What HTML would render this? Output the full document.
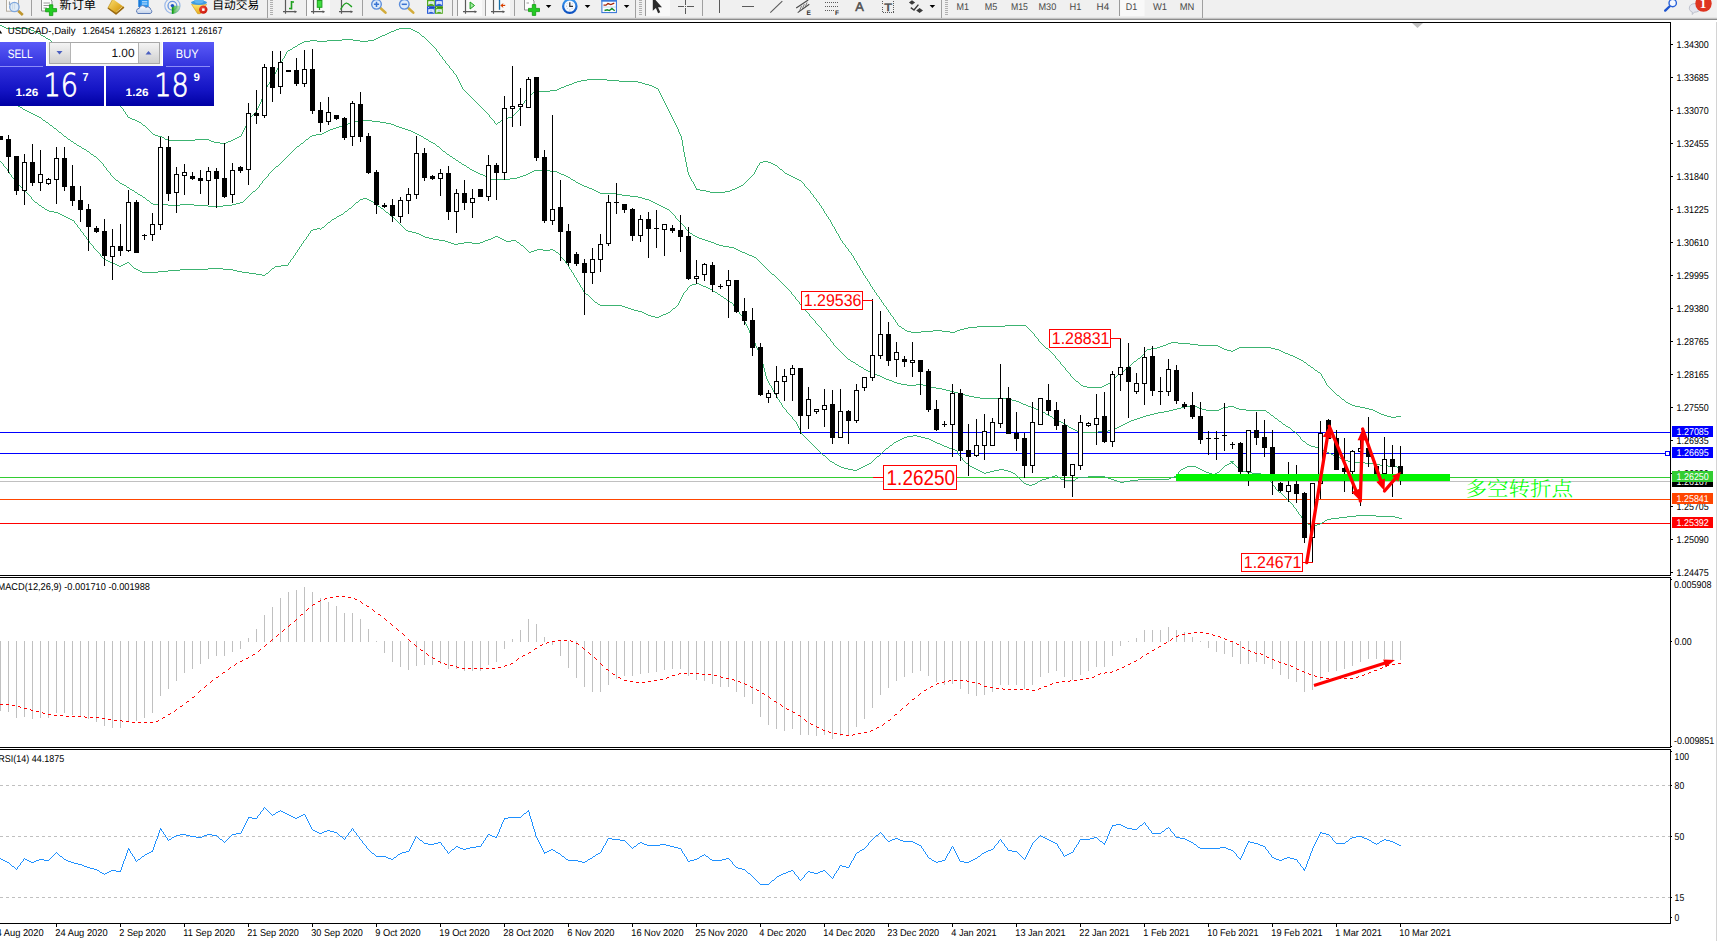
<!DOCTYPE html>
<html lang="zh"><head><meta charset="utf-8"><title>USDCAD Daily</title>
<style>html,body{margin:0;padding:0;background:#fff;overflow:hidden}svg{display:block}</style>
</head><body>
<svg width="1717" height="941" viewBox="0 0 1717 941" font-family='"Liberation Sans", sans-serif' font-size="10" text-rendering="geometricPrecision">
<defs>
<linearGradient id="gTop" x1="0" y1="0" x2="0" y2="1"><stop offset="0" stop-color="#5a5af8"/><stop offset="1" stop-color="#3232dc"/></linearGradient>
<linearGradient id="gBot" x1="0" y1="0" x2="0" y2="1"><stop offset="0" stop-color="#3030dc"/><stop offset="0.6" stop-color="#1414c4"/><stop offset="1" stop-color="#0000a4"/></linearGradient>
<linearGradient id="gBtn" x1="0" y1="0" x2="0" y2="1"><stop offset="0" stop-color="#f4f4f4"/><stop offset="0.5" stop-color="#e2e2e2"/><stop offset="1" stop-color="#cfcfcf"/></linearGradient>
<clipPath id="cMain"><rect x="0" y="23" width="1670" height="552"/></clipPath>
<clipPath id="cAll"><rect x="0" y="0" width="1717" height="941"/></clipPath>
</defs>
<rect x="0" y="0" width="1717" height="941" fill="#fff"/>
<g clip-path="url(#cMain)" shape-rendering="crispEdges">
<rect x="0" y="432" width="1670" height="1" fill="#0000ff"/>
<rect x="0" y="453" width="1670" height="1" fill="#0000ff"/>
<rect x="0" y="477" width="1670" height="1" fill="#32cd32"/>
<rect x="0" y="481" width="1670" height="1" fill="#c0c0c0"/>
<rect x="0" y="499" width="1670" height="1" fill="#ff4500"/>
<rect x="0" y="523" width="1670" height="1" fill="#ff0000"/>
<path d="M0 25h2v1h-2zM2 26h2v1h-2zM4 27h2v1h-2zM6 28h23v1h-23zM399 28h12v1h-12zM29 29h2v1h-2zM396 29h3v1h-3zM411 29h2v1h-2zM31 30h3v1h-3zM394 30h2v1h-2zM413 30h2v1h-2zM34 31h2v1h-2zM391 31h3v1h-3zM415 31h2v1h-2zM36 32h2v1h-2zM389 32h2v1h-2zM417 32h2v1h-2zM38 33h2v1h-2zM387 33h2v1h-2zM419 33h1v1h-1zM40 34h1v1h-1zM385 34h2v1h-2zM420 34h1v1h-1zM41 35h2v1h-2zM382 35h3v1h-3zM421 35h1v1h-1zM43 36h2v1h-2zM380 36h2v1h-2zM422 36h2v1h-2zM45 37h1v1h-1zM378 37h2v1h-2zM424 37h1v1h-1zM46 38h2v1h-2zM376 38h2v1h-2zM425 38h1v1h-1zM48 39h2v1h-2zM342 39h11v1h-11zM374 39h2v1h-2zM426 39h1v1h-1zM50 40h1v1h-1zM310 40h7v1h-7zM327 40h15v1h-15zM353 40h7v1h-7zM368 40h6v1h-6zM427 40h1v1h-1zM51 41h1v1h-1zM304 41h6v1h-6zM317 41h10v1h-10zM360 41h8v1h-8zM428 41h1v1h-1zM52 42h1v1h-1zM302 42h2v1h-2zM429 42h1v1h-1zM53 43h1v1h-1zM300 43h2v1h-2zM430 43h1v1h-1zM54 44h2v1h-2zM298 44h2v1h-2zM431 44h1v1h-1zM56 45h1v1h-1zM297 45h1v1h-1zM432 45h1v1h-1zM57 46h1v1h-1zM295 46h2v1h-2zM433 46h1v1h-1zM58 47h1v1h-1zM293 47h2v1h-2zM434 47h1v1h-1zM59 48h1v1h-1zM292 48h1v1h-1zM435 48h1v1h-1zM60 49h1v1h-1zM290 49h2v1h-2zM436 49h1v2h-1zM61 50h1v1h-1zM288 50h2v1h-2zM62 51h2v1h-2zM287 51h1v1h-1zM437 51h1v1h-1zM64 52h1v1h-1zM286 52h1v2h-1zM438 52h1v1h-1zM65 53h1v1h-1zM439 53h1v2h-1zM66 54h1v1h-1zM285 54h1v2h-1zM67 55h1v1h-1zM440 55h1v1h-1zM68 56h1v1h-1zM284 56h1v2h-1zM441 56h1v1h-1zM69 57h1v1h-1zM442 57h1v2h-1zM70 58h2v1h-2zM283 58h1v1h-1zM72 59h1v1h-1zM282 59h1v2h-1zM443 59h1v1h-1zM73 60h1v1h-1zM444 60h1v1h-1zM74 61h1v1h-1zM281 61h1v2h-1zM445 61h1v2h-1zM75 62h1v1h-1zM76 63h1v1h-1zM280 63h1v1h-1zM446 63h1v1h-1zM77 64h1v1h-1zM279 64h1v2h-1zM447 64h1v1h-1zM78 65h1v1h-1zM448 65h1v1h-1zM79 66h1v1h-1zM278 66h1v2h-1zM449 66h1v2h-1zM80 67h1v1h-1zM81 68h1v1h-1zM277 68h1v2h-1zM450 68h1v1h-1zM82 69h1v1h-1zM451 69h1v1h-1zM83 70h1v1h-1zM276 70h1v2h-1zM452 70h1v1h-1zM84 71h1v1h-1zM453 71h1v2h-1zM85 72h1v1h-1zM275 72h1v2h-1zM86 73h1v1h-1zM454 73h1v1h-1zM87 74h2v1h-2zM274 74h1v2h-1zM455 74h1v1h-1zM89 75h1v1h-1zM456 75h1v2h-1zM90 76h1v1h-1zM273 76h1v2h-1zM91 77h1v1h-1zM457 77h1v2h-1zM92 78h1v1h-1zM272 78h1v1h-1zM93 79h1v1h-1zM271 79h1v2h-1zM458 79h1v2h-1zM587 79h20v1h-20zM94 80h1v1h-1zM581 80h6v1h-6zM607 80h12v1h-12zM95 81h1v1h-1zM270 81h1v1h-1zM459 81h1v2h-1zM577 81h4v1h-4zM619 81h19v1h-19zM96 82h1v1h-1zM269 82h1v2h-1zM574 82h3v1h-3zM638 82h4v1h-4zM97 83h1v1h-1zM460 83h1v2h-1zM572 83h2v1h-2zM642 83h3v1h-3zM98 84h1v1h-1zM268 84h1v1h-1zM569 84h3v1h-3zM645 84h4v1h-4zM99 85h1v1h-1zM267 85h1v2h-1zM461 85h1v2h-1zM566 85h3v1h-3zM649 85h3v1h-3zM100 86h1v1h-1zM564 86h2v1h-2zM652 86h2v1h-2zM101 87h1v1h-1zM266 87h1v2h-1zM462 87h1v2h-1zM561 87h3v1h-3zM654 87h2v1h-2zM102 88h1v1h-1zM559 88h2v1h-2zM656 88h2v1h-2zM103 89h1v1h-1zM265 89h1v2h-1zM463 89h1v1h-1zM557 89h2v1h-2zM658 89h1v2h-1zM104 90h1v1h-1zM464 90h1v1h-1zM550 90h7v1h-7zM105 91h1v1h-1zM264 91h1v3h-1zM465 91h1v1h-1zM534 91h16v1h-16zM659 91h1v2h-1zM106 92h1v1h-1zM466 92h1v1h-1zM533 92h1v1h-1zM107 93h1v1h-1zM467 93h1v1h-1zM532 93h1v1h-1zM660 93h1v2h-1zM108 94h1v1h-1zM263 94h1v3h-1zM468 94h1v1h-1zM530 94h2v1h-2zM109 95h1v1h-1zM469 95h1v1h-1zM529 95h1v1h-1zM661 95h1v2h-1zM110 96h1v1h-1zM470 96h1v1h-1zM528 96h1v1h-1zM111 97h1v1h-1zM262 97h1v2h-1zM471 97h1v1h-1zM527 97h1v1h-1zM662 97h1v2h-1zM112 98h1v1h-1zM472 98h1v1h-1zM526 98h1v2h-1zM113 99h1v1h-1zM261 99h1v3h-1zM473 99h1v1h-1zM663 99h1v2h-1zM114 100h1v1h-1zM474 100h1v1h-1zM525 100h1v1h-1zM115 101h1v1h-1zM475 101h1v1h-1zM524 101h1v2h-1zM664 101h1v2h-1zM116 102h1v1h-1zM260 102h1v2h-1zM476 102h1v1h-1zM117 103h1v1h-1zM477 103h1v1h-1zM523 103h1v1h-1zM665 103h1v2h-1zM118 104h1v1h-1zM259 104h1v2h-1zM478 104h1v1h-1zM522 104h1v1h-1zM119 105h1v1h-1zM479 105h1v1h-1zM521 105h1v2h-1zM666 105h1v2h-1zM120 106h1v1h-1zM258 106h1v2h-1zM480 106h1v1h-1zM121 107h1v1h-1zM481 107h1v1h-1zM520 107h1v1h-1zM667 107h1v2h-1zM122 108h1v1h-1zM257 108h1v2h-1zM482 108h1v1h-1zM519 108h1v2h-1zM123 109h1v2h-1zM483 109h1v1h-1zM668 109h1v2h-1zM256 110h1v2h-1zM484 110h1v1h-1zM518 110h1v1h-1zM124 111h1v1h-1zM485 111h1v1h-1zM517 111h1v1h-1zM669 111h1v2h-1zM125 112h1v2h-1zM255 112h1v1h-1zM486 112h1v1h-1zM516 112h1v1h-1zM254 113h1v1h-1zM487 113h1v1h-1zM515 113h1v1h-1zM670 113h1v2h-1zM126 114h1v1h-1zM253 114h1v1h-1zM488 114h1v1h-1zM514 114h1v1h-1zM127 115h1v2h-1zM252 115h1v1h-1zM489 115h1v2h-1zM513 115h1v1h-1zM671 115h1v2h-1zM251 116h1v1h-1zM512 116h1v1h-1zM128 117h2v1h-2zM250 117h1v1h-1zM490 117h1v1h-1zM508 117h4v1h-4zM672 117h1v2h-1zM130 118h2v1h-2zM249 118h1v2h-1zM491 118h1v1h-1zM504 118h4v1h-4zM132 119h3v1h-3zM492 119h1v1h-1zM502 119h2v1h-2zM673 119h1v2h-1zM135 120h2v1h-2zM248 120h1v2h-1zM493 120h1v1h-1zM501 120h1v1h-1zM137 121h2v1h-2zM494 121h1v2h-1zM500 121h1v1h-1zM674 121h1v2h-1zM139 122h2v1h-2zM247 122h1v2h-1zM498 122h2v1h-2zM141 123h1v1h-1zM495 123h1v1h-1zM497 123h1v1h-1zM675 123h1v2h-1zM142 124h1v1h-1zM246 124h1v2h-1zM496 124h1v1h-1zM143 125h2v1h-2zM676 125h1v2h-1zM145 126h1v1h-1zM245 126h1v2h-1zM146 127h1v1h-1zM677 127h1v2h-1zM147 128h1v1h-1zM244 128h1v2h-1zM148 129h1v1h-1zM678 129h1v3h-1zM149 130h1v1h-1zM243 130h1v2h-1zM150 131h1v1h-1zM151 132h1v1h-1zM242 132h1v2h-1zM679 132h1v2h-1zM152 133h1v1h-1zM153 134h2v1h-2zM241 134h1v2h-1zM680 134h1v2h-1zM155 135h3v1h-3zM158 136h4v1h-4zM239 136h2v1h-2zM681 136h1v4h-1zM162 137h2v1h-2zM237 137h2v1h-2zM164 138h1v1h-1zM235 138h2v1h-2zM165 139h4v1h-4zM195 139h14v1h-14zM233 139h2v1h-2zM169 140h26v1h-26zM209 140h2v1h-2zM231 140h2v1h-2zM682 140h1v6h-1zM211 141h3v1h-3zM228 141h3v1h-3zM214 142h6v1h-6zM226 142h2v1h-2zM220 143h6v1h-6zM683 146h1v6h-1zM684 152h1v5h-1zM685 157h1v5h-1zM763 161h5v1h-5zM686 162h1v5h-1zM760 162h3v1h-3zM768 162h3v1h-3zM759 163h1v2h-1zM771 163h2v1h-2zM773 164h2v1h-2zM758 165h1v1h-1zM775 165h2v1h-2zM757 166h1v2h-1zM777 166h1v1h-1zM687 167h1v5h-1zM778 167h1v1h-1zM756 168h1v2h-1zM779 168h1v1h-1zM780 169h2v1h-2zM755 170h1v2h-1zM782 170h1v1h-1zM783 171h1v1h-1zM688 172h1v3h-1zM754 172h1v2h-1zM784 172h1v1h-1zM785 173h2v1h-2zM753 174h1v1h-1zM787 174h2v1h-2zM689 175h1v2h-1zM752 175h1v1h-1zM789 175h2v1h-2zM751 176h1v1h-1zM791 176h2v1h-2zM690 177h1v2h-1zM750 177h1v1h-1zM793 177h2v1h-2zM749 178h1v1h-1zM795 178h2v1h-2zM691 179h1v2h-1zM748 179h1v1h-1zM797 179h2v1h-2zM747 180h1v1h-1zM799 180h2v1h-2zM692 181h1v1h-1zM746 181h1v1h-1zM801 181h1v1h-1zM693 182h1v2h-1zM745 182h1v1h-1zM802 182h1v1h-1zM744 183h1v1h-1zM803 183h1v1h-1zM694 184h1v2h-1zM743 184h1v1h-1zM804 184h1v2h-1zM741 185h2v1h-2zM695 186h1v2h-1zM739 186h2v1h-2zM805 186h1v1h-1zM737 187h2v1h-2zM806 187h1v1h-1zM696 188h1v1h-1zM735 188h2v1h-2zM807 188h1v1h-1zM696 189h4v1h-4zM732 189h3v1h-3zM808 189h1v1h-1zM700 190h6v1h-6zM730 190h2v1h-2zM809 190h1v1h-1zM706 191h4v1h-4zM725 191h5v1h-5zM810 191h1v2h-1zM710 192h15v1h-15zM811 193h1v1h-1zM812 194h1v1h-1zM813 195h1v2h-1zM814 197h1v1h-1zM815 198h1v1h-1zM816 199h1v2h-1zM817 201h1v1h-1zM818 202h1v1h-1zM819 203h1v2h-1zM820 205h1v1h-1zM821 206h1v2h-1zM822 208h1v1h-1zM823 209h1v2h-1zM824 211h1v2h-1zM825 213h1v1h-1zM826 214h1v2h-1zM827 216h1v1h-1zM828 217h1v2h-1zM829 219h1v1h-1zM830 220h1v2h-1zM831 222h1v2h-1zM832 224h1v2h-1zM833 226h1v1h-1zM834 227h1v2h-1zM835 229h1v2h-1zM836 231h1v2h-1zM837 233h1v1h-1zM838 234h1v2h-1zM839 236h1v2h-1zM840 238h1v2h-1zM841 240h1v1h-1zM842 241h1v2h-1zM843 243h1v1h-1zM844 244h1v1h-1zM845 245h1v2h-1zM846 247h1v1h-1zM847 248h1v1h-1zM848 249h1v2h-1zM849 251h1v1h-1zM850 252h1v1h-1zM851 253h1v2h-1zM852 255h1v1h-1zM853 256h1v2h-1zM854 258h1v2h-1zM855 260h1v1h-1zM856 261h1v2h-1zM857 263h1v2h-1zM858 265h1v1h-1zM859 266h1v2h-1zM860 268h1v2h-1zM861 270h1v1h-1zM862 271h1v2h-1zM863 273h1v2h-1zM864 275h1v1h-1zM865 276h1v2h-1zM866 278h1v1h-1zM867 279h1v2h-1zM868 281h1v1h-1zM869 282h1v2h-1zM870 284h1v2h-1zM871 286h1v1h-1zM872 287h1v2h-1zM873 289h1v1h-1zM874 290h1v2h-1zM875 292h1v1h-1zM876 293h1v2h-1zM877 295h1v1h-1zM878 296h1v1h-1zM879 297h1v2h-1zM880 299h1v1h-1zM881 300h1v2h-1zM882 302h1v1h-1zM883 303h1v2h-1zM884 305h1v1h-1zM885 306h1v1h-1zM886 307h1v2h-1zM887 309h1v1h-1zM888 310h1v2h-1zM889 312h1v1h-1zM890 313h1v2h-1zM891 315h1v1h-1zM892 316h1v1h-1zM893 317h1v2h-1zM894 319h1v1h-1zM895 320h1v2h-1zM896 322h1v1h-1zM897 323h1v2h-1zM898 325h1v1h-1zM1005 325h21v1h-21zM899 326h2v1h-2zM977 326h28v1h-28zM1026 326h1v1h-1zM901 327h1v1h-1zM968 327h9v1h-9zM1027 327h1v1h-1zM902 328h2v1h-2zM964 328h4v1h-4zM1028 328h1v1h-1zM904 329h1v1h-1zM960 329h4v1h-4zM1029 329h1v1h-1zM905 330h2v1h-2zM933 330h9v1h-9zM957 330h3v1h-3zM1030 330h1v1h-1zM907 331h4v1h-4zM921 331h12v1h-12zM942 331h8v1h-8zM955 331h2v1h-2zM1031 331h1v1h-1zM911 332h10v1h-10zM950 332h5v1h-5zM1032 332h1v1h-1zM1033 333h1v1h-1zM1034 334h1v2h-1zM1035 336h1v1h-1zM1036 337h1v1h-1zM1037 338h1v1h-1zM1038 339h1v2h-1zM1039 341h1v1h-1zM1040 342h1v1h-1zM1171 342h7v1h-7zM1041 343h1v1h-1zM1168 343h3v1h-3zM1178 343h12v1h-12zM1042 344h1v1h-1zM1166 344h2v1h-2zM1190 344h8v1h-8zM1043 345h1v1h-1zM1163 345h3v1h-3zM1198 345h20v1h-20zM1044 346h1v1h-1zM1160 346h3v1h-3zM1218 346h2v1h-2zM1045 347h1v1h-1zM1157 347h3v1h-3zM1220 347h2v1h-2zM1239 347h32v1h-32zM1046 348h2v1h-2zM1151 348h6v1h-6zM1222 348h2v1h-2zM1237 348h2v1h-2zM1271 348h4v1h-4zM1048 349h1v1h-1zM1147 349h4v1h-4zM1224 349h3v1h-3zM1235 349h2v1h-2zM1275 349h4v1h-4zM1049 350h1v1h-1zM1146 350h1v1h-1zM1227 350h4v1h-4zM1233 350h2v1h-2zM1279 350h2v1h-2zM1050 351h1v1h-1zM1145 351h1v1h-1zM1231 351h2v1h-2zM1281 351h2v1h-2zM1051 352h1v1h-1zM1144 352h1v2h-1zM1283 352h2v1h-2zM1052 353h1v1h-1zM1285 353h3v1h-3zM1053 354h1v1h-1zM1143 354h1v1h-1zM1288 354h2v1h-2zM1054 355h1v1h-1zM1142 355h1v1h-1zM1290 355h3v1h-3zM1055 356h1v2h-1zM1141 356h1v1h-1zM1293 356h2v1h-2zM1140 357h1v1h-1zM1295 357h2v1h-2zM1056 358h1v1h-1zM1138 358h2v1h-2zM1297 358h2v1h-2zM1057 359h1v1h-1zM1137 359h1v1h-1zM1299 359h2v1h-2zM1058 360h1v1h-1zM1136 360h1v1h-1zM1301 360h2v1h-2zM1059 361h1v1h-1zM1134 361h2v1h-2zM1303 361h1v1h-1zM1060 362h1v2h-1zM1133 362h1v1h-1zM1304 362h2v1h-2zM1132 363h1v1h-1zM1306 363h1v1h-1zM1061 364h1v1h-1zM1131 364h1v1h-1zM1307 364h1v1h-1zM1062 365h1v1h-1zM1130 365h1v1h-1zM1308 365h2v1h-2zM1063 366h1v1h-1zM1128 366h2v1h-2zM1310 366h1v1h-1zM1064 367h1v1h-1zM1127 367h1v1h-1zM1311 367h2v1h-2zM1065 368h1v2h-1zM1126 368h1v1h-1zM1313 368h1v1h-1zM1125 369h1v1h-1zM1314 369h1v1h-1zM1066 370h1v1h-1zM1124 370h1v1h-1zM1315 370h2v1h-2zM1067 371h1v1h-1zM1122 371h2v1h-2zM1317 371h1v1h-1zM1068 372h1v1h-1zM1121 372h1v1h-1zM1318 372h2v1h-2zM1069 373h1v1h-1zM1120 373h1v1h-1zM1320 373h1v1h-1zM1070 374h1v2h-1zM1118 374h2v1h-2zM1321 374h1v2h-1zM1117 375h1v1h-1zM1071 376h1v1h-1zM1116 376h1v1h-1zM1322 376h1v2h-1zM1072 377h1v1h-1zM1115 377h1v1h-1zM1073 378h1v1h-1zM1114 378h1v1h-1zM1323 378h1v1h-1zM1074 379h1v1h-1zM1113 379h1v1h-1zM1324 379h1v2h-1zM1075 380h1v1h-1zM1112 380h1v1h-1zM1076 381h2v1h-2zM1111 381h1v1h-1zM1325 381h1v2h-1zM1078 382h1v1h-1zM1110 382h1v1h-1zM1079 383h1v1h-1zM1108 383h2v1h-2zM1326 383h1v2h-1zM1080 384h1v1h-1zM1106 384h2v1h-2zM1081 385h2v1h-2zM1104 385h2v1h-2zM1327 385h1v1h-1zM1083 386h4v1h-4zM1102 386h2v1h-2zM1328 386h1v1h-1zM1087 387h15v1h-15zM1329 387h1v1h-1zM1330 388h1v1h-1zM1331 389h1v1h-1zM1332 390h1v1h-1zM1333 391h1v1h-1zM1334 392h1v1h-1zM1335 393h1v1h-1zM1336 394h1v1h-1zM1337 395h2v1h-2zM1339 396h1v1h-1zM1340 397h1v1h-1zM1341 398h1v1h-1zM1342 399h2v1h-2zM1344 400h1v1h-1zM1345 401h1v1h-1zM1346 402h2v1h-2zM1348 403h2v1h-2zM1350 404h2v1h-2zM1352 405h3v1h-3zM1355 406h5v1h-5zM1360 407h5v1h-5zM1365 408h4v1h-4zM1369 409h4v1h-4zM1373 410h2v1h-2zM1375 411h2v1h-2zM1377 412h2v1h-2zM1379 413h2v1h-2zM1381 414h3v1h-3zM1384 415h3v1h-3zM1387 416h4v1h-4zM1396 416h5v1h-5zM1391 417h5v1h-5z" fill="#3cb371"/>
<path d="M0 96h1v1h-1zM1 97h2v1h-2zM3 98h2v1h-2zM5 99h2v1h-2zM7 100h2v1h-2zM9 101h2v1h-2zM11 102h1v1h-1zM12 103h2v1h-2zM14 104h2v1h-2zM16 105h2v1h-2zM18 106h2v1h-2zM20 107h2v1h-2zM22 108h1v1h-1zM23 109h2v1h-2zM25 110h2v1h-2zM27 111h2v1h-2zM29 112h2v1h-2zM31 113h2v1h-2zM33 114h2v1h-2zM35 115h2v1h-2zM37 116h2v1h-2zM39 117h2v1h-2zM41 118h1v1h-1zM42 119h1v1h-1zM43 120h2v1h-2zM360 120h12v1h-12zM45 121h1v1h-1zM353 121h7v1h-7zM372 121h8v1h-8zM46 122h2v1h-2zM350 122h3v1h-3zM380 122h6v1h-6zM48 123h1v1h-1zM348 123h2v1h-2zM386 123h5v1h-5zM49 124h1v1h-1zM345 124h3v1h-3zM391 124h3v1h-3zM50 125h2v1h-2zM342 125h3v1h-3zM394 125h2v1h-2zM52 126h1v1h-1zM339 126h3v1h-3zM396 126h3v1h-3zM53 127h1v1h-1zM336 127h3v1h-3zM399 127h3v1h-3zM54 128h2v1h-2zM333 128h3v1h-3zM402 128h3v1h-3zM56 129h1v1h-1zM330 129h3v1h-3zM405 129h3v1h-3zM57 130h1v1h-1zM328 130h2v1h-2zM408 130h3v1h-3zM58 131h1v1h-1zM326 131h2v1h-2zM411 131h2v1h-2zM59 132h2v1h-2zM324 132h2v1h-2zM413 132h2v1h-2zM61 133h1v1h-1zM322 133h2v1h-2zM415 133h2v1h-2zM62 134h1v1h-1zM316 134h6v1h-6zM417 134h2v1h-2zM63 135h1v1h-1zM312 135h4v1h-4zM419 135h2v1h-2zM64 136h2v1h-2zM310 136h2v1h-2zM421 136h2v1h-2zM66 137h1v1h-1zM309 137h1v1h-1zM423 137h1v1h-1zM67 138h1v1h-1zM308 138h1v1h-1zM424 138h2v1h-2zM68 139h2v1h-2zM306 139h2v1h-2zM426 139h2v1h-2zM70 140h1v1h-1zM305 140h1v1h-1zM428 140h1v1h-1zM71 141h2v1h-2zM304 141h1v1h-1zM429 141h2v1h-2zM73 142h1v1h-1zM303 142h1v1h-1zM431 142h2v1h-2zM74 143h2v1h-2zM301 143h2v1h-2zM433 143h2v1h-2zM76 144h1v1h-1zM300 144h1v1h-1zM435 144h1v1h-1zM77 145h2v1h-2zM299 145h1v1h-1zM436 145h1v1h-1zM79 146h2v1h-2zM297 146h2v1h-2zM437 146h2v1h-2zM81 147h1v1h-1zM296 147h1v1h-1zM439 147h1v1h-1zM82 148h2v1h-2zM295 148h1v1h-1zM440 148h1v1h-1zM84 149h2v1h-2zM294 149h1v1h-1zM441 149h1v1h-1zM86 150h1v1h-1zM293 150h1v1h-1zM442 150h1v1h-1zM87 151h2v1h-2zM292 151h1v1h-1zM443 151h2v1h-2zM89 152h1v1h-1zM291 152h1v1h-1zM445 152h1v1h-1zM90 153h1v1h-1zM290 153h1v1h-1zM446 153h1v1h-1zM91 154h2v1h-2zM289 154h1v1h-1zM447 154h2v1h-2zM93 155h1v1h-1zM288 155h1v1h-1zM449 155h1v1h-1zM94 156h2v1h-2zM287 156h1v1h-1zM450 156h2v1h-2zM96 157h1v1h-1zM286 157h1v1h-1zM452 157h1v1h-1zM97 158h1v1h-1zM285 158h1v1h-1zM453 158h2v1h-2zM98 159h1v1h-1zM284 159h1v1h-1zM455 159h1v1h-1zM99 160h1v1h-1zM283 160h1v1h-1zM456 160h2v1h-2zM100 161h1v1h-1zM282 161h1v1h-1zM458 161h1v1h-1zM101 162h1v1h-1zM281 162h1v1h-1zM459 162h2v1h-2zM102 163h1v1h-1zM280 163h1v1h-1zM461 163h1v1h-1zM103 164h1v2h-1zM279 164h1v1h-1zM462 164h2v1h-2zM278 165h1v1h-1zM464 165h2v1h-2zM104 166h1v1h-1zM276 166h2v1h-2zM466 166h1v1h-1zM105 167h1v1h-1zM275 167h1v1h-1zM467 167h2v1h-2zM106 168h1v2h-1zM274 168h1v1h-1zM469 168h1v1h-1zM273 169h1v1h-1zM470 169h2v1h-2zM107 170h1v1h-1zM272 170h1v1h-1zM472 170h2v1h-2zM534 170h16v1h-16zM108 171h1v1h-1zM271 171h1v1h-1zM474 171h2v1h-2zM532 171h2v1h-2zM550 171h7v1h-7zM109 172h1v1h-1zM270 172h1v1h-1zM476 172h2v1h-2zM530 172h2v1h-2zM557 172h2v1h-2zM110 173h1v2h-1zM269 173h1v1h-1zM478 173h2v1h-2zM528 173h2v1h-2zM559 173h2v1h-2zM268 174h1v2h-1zM480 174h3v1h-3zM526 174h2v1h-2zM561 174h3v1h-3zM111 175h1v1h-1zM483 175h2v1h-2zM523 175h3v1h-3zM564 175h2v1h-2zM112 176h1v1h-1zM267 176h1v1h-1zM485 176h2v1h-2zM520 176h3v1h-3zM566 176h2v1h-2zM113 177h1v1h-1zM266 177h1v1h-1zM487 177h2v1h-2zM517 177h3v1h-3zM568 177h2v1h-2zM114 178h1v1h-1zM265 178h1v1h-1zM489 178h2v1h-2zM510 178h7v1h-7zM570 178h1v1h-1zM115 179h1v1h-1zM264 179h1v1h-1zM491 179h19v1h-19zM571 179h2v1h-2zM116 180h2v1h-2zM263 180h1v1h-1zM573 180h2v1h-2zM118 181h1v1h-1zM262 181h1v2h-1zM575 181h1v1h-1zM119 182h1v1h-1zM576 182h2v1h-2zM120 183h2v1h-2zM261 183h1v1h-1zM578 183h2v1h-2zM122 184h2v1h-2zM260 184h1v1h-1zM580 184h2v1h-2zM124 185h2v1h-2zM259 185h1v2h-1zM582 185h2v1h-2zM126 186h1v1h-1zM584 186h3v1h-3zM127 187h2v1h-2zM258 187h1v1h-1zM587 187h2v1h-2zM129 188h1v1h-1zM257 188h1v1h-1zM589 188h3v1h-3zM130 189h2v1h-2zM256 189h1v1h-1zM592 189h2v1h-2zM132 190h2v1h-2zM255 190h1v1h-1zM594 190h2v1h-2zM134 191h1v1h-1zM253 191h2v1h-2zM596 191h2v1h-2zM135 192h2v1h-2zM252 192h1v1h-1zM598 192h2v1h-2zM137 193h1v1h-1zM251 193h1v1h-1zM600 193h16v1h-16zM138 194h2v1h-2zM250 194h1v1h-1zM616 194h6v1h-6zM140 195h2v1h-2zM249 195h1v1h-1zM622 195h8v1h-8zM142 196h1v1h-1zM248 196h1v1h-1zM630 196h8v1h-8zM143 197h2v1h-2zM247 197h1v1h-1zM638 197h4v1h-4zM145 198h1v1h-1zM246 198h1v1h-1zM642 198h3v1h-3zM146 199h1v1h-1zM245 199h1v1h-1zM645 199h4v1h-4zM147 200h2v1h-2zM244 200h1v1h-1zM649 200h2v1h-2zM149 201h1v1h-1zM243 201h1v1h-1zM651 201h2v1h-2zM150 202h1v1h-1zM240 202h3v1h-3zM653 202h2v1h-2zM151 203h2v1h-2zM236 203h4v1h-4zM655 203h2v1h-2zM153 204h15v1h-15zM180 204h14v1h-14zM232 204h4v1h-4zM657 204h2v1h-2zM168 205h12v1h-12zM194 205h14v1h-14zM223 205h9v1h-9zM659 205h2v1h-2zM208 206h15v1h-15zM661 206h2v1h-2zM663 207h2v1h-2zM665 208h2v1h-2zM667 209h2v1h-2zM669 210h1v1h-1zM670 211h1v1h-1zM671 212h1v1h-1zM672 213h1v1h-1zM673 214h1v1h-1zM674 215h1v1h-1zM675 216h1v2h-1zM676 218h1v1h-1zM677 219h1v1h-1zM678 220h1v1h-1zM679 221h1v1h-1zM680 222h1v1h-1zM681 223h1v1h-1zM682 224h1v1h-1zM683 225h1v1h-1zM684 226h1v1h-1zM685 227h1v2h-1zM686 229h1v1h-1zM687 230h1v1h-1zM688 231h1v1h-1zM689 232h1v1h-1zM690 233h2v1h-2zM692 234h1v1h-1zM693 235h2v1h-2zM695 236h2v1h-2zM697 237h2v1h-2zM699 238h3v1h-3zM702 239h3v1h-3zM705 240h3v1h-3zM708 241h3v1h-3zM711 242h3v1h-3zM714 243h2v1h-2zM716 244h3v1h-3zM719 245h4v1h-4zM723 246h6v1h-6zM729 247h5v1h-5zM734 248h2v1h-2zM736 249h2v1h-2zM738 250h2v1h-2zM740 251h2v1h-2zM742 252h3v1h-3zM745 253h2v1h-2zM747 254h2v1h-2zM749 255h3v1h-3zM752 256h2v1h-2zM754 257h2v1h-2zM756 258h1v1h-1zM757 259h1v1h-1zM758 260h1v1h-1zM759 261h1v1h-1zM760 262h1v1h-1zM761 263h1v1h-1zM762 264h1v1h-1zM763 265h1v1h-1zM764 266h1v1h-1zM765 267h1v1h-1zM766 268h1v1h-1zM767 269h1v1h-1zM768 270h1v1h-1zM769 271h1v1h-1zM770 272h1v1h-1zM771 273h1v1h-1zM772 274h2v1h-2zM774 275h1v1h-1zM775 276h1v1h-1zM776 277h1v1h-1zM777 278h1v1h-1zM778 279h1v1h-1zM779 280h1v1h-1zM780 281h1v1h-1zM781 282h1v1h-1zM782 283h1v1h-1zM783 284h1v1h-1zM784 285h1v1h-1zM785 286h1v1h-1zM786 287h1v1h-1zM787 288h1v1h-1zM788 289h1v1h-1zM789 290h1v1h-1zM790 291h1v1h-1zM791 292h1v2h-1zM792 294h1v1h-1zM793 295h1v1h-1zM794 296h1v1h-1zM795 297h1v2h-1zM796 299h1v1h-1zM797 300h1v1h-1zM798 301h1v1h-1zM799 302h1v2h-1zM800 304h1v1h-1zM801 305h1v1h-1zM802 306h1v1h-1zM803 307h1v1h-1zM804 308h1v2h-1zM805 310h1v1h-1zM806 311h1v1h-1zM807 312h1v1h-1zM808 313h1v1h-1zM809 314h1v2h-1zM810 316h1v1h-1zM811 317h1v1h-1zM812 318h1v1h-1zM813 319h1v1h-1zM814 320h1v1h-1zM815 321h1v2h-1zM816 323h1v1h-1zM817 324h1v1h-1zM818 325h1v1h-1zM819 326h1v1h-1zM820 327h1v1h-1zM821 328h1v2h-1zM822 330h1v1h-1zM823 331h1v1h-1zM824 332h1v1h-1zM825 333h1v1h-1zM826 334h1v2h-1zM827 336h1v1h-1zM828 337h1v1h-1zM829 338h1v1h-1zM830 339h1v2h-1zM831 341h1v1h-1zM832 342h1v1h-1zM833 343h1v2h-1zM834 345h1v1h-1zM835 346h1v1h-1zM836 347h1v1h-1zM837 348h1v1h-1zM838 349h1v1h-1zM839 350h1v1h-1zM840 351h1v1h-1zM841 352h1v1h-1zM842 353h1v1h-1zM843 354h1v1h-1zM844 355h1v1h-1zM845 356h1v1h-1zM846 357h1v1h-1zM847 358h1v1h-1zM848 359h2v1h-2zM850 360h1v1h-1zM851 361h2v1h-2zM853 362h2v1h-2zM855 363h1v1h-1zM856 364h2v1h-2zM858 365h1v1h-1zM859 366h2v1h-2zM861 367h2v1h-2zM863 368h1v1h-1zM864 369h2v1h-2zM866 370h2v1h-2zM868 371h2v1h-2zM870 372h2v1h-2zM872 373h2v1h-2zM874 374h3v1h-3zM877 375h3v1h-3zM880 376h2v1h-2zM882 377h2v1h-2zM884 378h2v1h-2zM886 379h3v1h-3zM889 380h3v1h-3zM892 381h2v1h-2zM894 382h3v1h-3zM897 383h4v1h-4zM901 384h6v1h-6zM916 384h7v1h-7zM907 385h9v1h-9zM923 385h4v1h-4zM927 386h4v1h-4zM931 387h5v1h-5zM936 388h6v1h-6zM942 389h4v1h-4zM946 390h4v1h-4zM950 391h4v1h-4zM954 392h4v1h-4zM958 393h4v1h-4zM962 394h3v1h-3zM965 395h4v1h-4zM969 396h5v1h-5zM974 397h6v1h-6zM980 398h28v1h-28zM1008 399h4v1h-4zM1012 400h4v1h-4zM1016 401h3v1h-3zM1019 402h2v1h-2zM1021 403h2v1h-2zM1023 404h3v1h-3zM1026 405h2v1h-2zM1028 406h3v1h-3zM1185 406h12v1h-12zM1228 406h6v1h-6zM1031 407h3v1h-3zM1181 407h4v1h-4zM1197 407h2v1h-2zM1223 407h5v1h-5zM1234 407h2v1h-2zM1034 408h2v1h-2zM1177 408h4v1h-4zM1199 408h3v1h-3zM1221 408h2v1h-2zM1236 408h3v1h-3zM1036 409h3v1h-3zM1173 409h4v1h-4zM1202 409h4v1h-4zM1219 409h2v1h-2zM1239 409h7v1h-7zM1039 410h2v1h-2zM1169 410h4v1h-4zM1206 410h13v1h-13zM1246 410h20v1h-20zM1041 411h2v1h-2zM1164 411h5v1h-5zM1266 411h1v1h-1zM1043 412h2v1h-2zM1158 412h6v1h-6zM1267 412h2v1h-2zM1045 413h1v1h-1zM1154 413h4v1h-4zM1269 413h1v1h-1zM1046 414h2v1h-2zM1150 414h4v1h-4zM1270 414h1v1h-1zM1048 415h2v1h-2zM1146 415h4v1h-4zM1271 415h2v1h-2zM1050 416h2v1h-2zM1143 416h3v1h-3zM1273 416h1v1h-1zM1052 417h1v1h-1zM1140 417h3v1h-3zM1274 417h1v1h-1zM1053 418h2v1h-2zM1137 418h3v1h-3zM1275 418h2v1h-2zM1055 419h2v1h-2zM1134 419h3v1h-3zM1277 419h1v1h-1zM1057 420h2v1h-2zM1131 420h3v1h-3zM1278 420h1v1h-1zM1059 421h2v1h-2zM1129 421h2v1h-2zM1279 421h2v1h-2zM1061 422h2v1h-2zM1127 422h2v1h-2zM1281 422h1v1h-1zM1063 423h1v1h-1zM1125 423h2v1h-2zM1282 423h1v1h-1zM1064 424h2v1h-2zM1123 424h2v1h-2zM1283 424h2v1h-2zM1066 425h2v1h-2zM1121 425h2v1h-2zM1285 425h1v1h-1zM1068 426h1v1h-1zM1119 426h2v1h-2zM1286 426h2v1h-2zM1069 427h2v1h-2zM1117 427h2v1h-2zM1288 427h2v1h-2zM1071 428h2v1h-2zM1115 428h2v1h-2zM1290 428h1v1h-1zM1073 429h2v1h-2zM1113 429h2v1h-2zM1291 429h1v1h-1zM1075 430h2v1h-2zM1108 430h5v1h-5zM1292 430h1v1h-1zM1077 431h4v1h-4zM1098 431h10v1h-10zM1293 431h2v1h-2zM1081 432h17v1h-17zM1295 432h1v1h-1zM1296 433h1v1h-1zM1297 434h1v1h-1zM1298 435h1v1h-1zM1299 436h1v1h-1zM1300 437h1v2h-1zM1301 439h1v1h-1zM1302 440h1v1h-1zM1303 441h2v1h-2zM1305 442h1v1h-1zM1306 443h1v1h-1zM1307 444h2v1h-2zM1309 445h2v1h-2zM1311 446h4v1h-4zM1315 447h4v1h-4zM1319 448h2v1h-2zM1321 449h2v1h-2zM1323 450h2v1h-2zM1325 451h2v1h-2zM1327 452h2v1h-2zM1329 453h2v1h-2zM1331 454h2v1h-2zM1333 455h2v1h-2zM1335 456h2v1h-2zM1337 457h3v1h-3zM1340 458h2v1h-2zM1342 459h2v1h-2zM1344 460h4v1h-4zM1348 461h7v1h-7zM1355 462h10v1h-10zM1365 463h9v1h-9zM1374 464h6v1h-6zM1380 465h8v1h-8zM1388 466h9v1h-9zM1397 467h5v1h-5z" fill="#3cb371"/>
<path d="M0 161h1v1h-1zM1 162h1v1h-1zM2 163h1v1h-1zM3 164h1v2h-1zM4 166h1v1h-1zM5 167h1v1h-1zM6 168h1v1h-1zM7 169h1v2h-1zM8 171h1v1h-1zM9 172h1v2h-1zM10 174h1v1h-1zM11 175h1v2h-1zM12 177h1v1h-1zM13 178h1v1h-1zM14 179h1v1h-1zM15 180h1v1h-1zM16 181h1v2h-1zM17 183h1v1h-1zM18 184h1v1h-1zM19 185h1v1h-1zM20 186h1v1h-1zM21 187h1v1h-1zM22 188h1v1h-1zM23 189h1v1h-1zM24 190h1v1h-1zM25 191h1v1h-1zM26 192h1v1h-1zM27 193h1v1h-1zM28 194h1v1h-1zM29 195h1v1h-1zM30 196h1v1h-1zM31 197h1v2h-1zM363 198h4v1h-4zM32 199h1v1h-1zM360 199h3v1h-3zM367 199h2v1h-2zM33 200h1v1h-1zM359 200h1v1h-1zM369 200h2v1h-2zM34 201h1v1h-1zM358 201h1v1h-1zM371 201h2v1h-2zM35 202h2v1h-2zM356 202h2v1h-2zM373 202h1v1h-1zM37 203h1v1h-1zM355 203h1v1h-1zM374 203h2v1h-2zM38 204h1v1h-1zM354 204h1v1h-1zM376 204h1v1h-1zM39 205h2v1h-2zM353 205h1v1h-1zM377 205h1v1h-1zM41 206h1v1h-1zM352 206h1v1h-1zM378 206h2v1h-2zM42 207h2v1h-2zM351 207h1v1h-1zM380 207h1v1h-1zM44 208h1v1h-1zM349 208h2v1h-2zM381 208h2v1h-2zM45 209h2v1h-2zM348 209h1v1h-1zM383 209h1v1h-1zM47 210h2v1h-2zM347 210h1v1h-1zM384 210h1v1h-1zM49 211h5v1h-5zM345 211h2v1h-2zM385 211h1v1h-1zM54 212h4v1h-4zM344 212h1v1h-1zM386 212h2v1h-2zM58 213h2v1h-2zM343 213h1v1h-1zM388 213h1v1h-1zM60 214h2v1h-2zM341 214h2v1h-2zM389 214h1v1h-1zM62 215h2v1h-2zM339 215h2v1h-2zM390 215h1v1h-1zM64 216h2v1h-2zM337 216h2v1h-2zM391 216h1v1h-1zM66 217h2v1h-2zM336 217h1v1h-1zM392 217h2v1h-2zM68 218h2v1h-2zM334 218h2v1h-2zM394 218h1v1h-1zM70 219h2v1h-2zM332 219h2v1h-2zM395 219h1v1h-1zM72 220h2v1h-2zM331 220h1v1h-1zM396 220h1v1h-1zM74 221h1v2h-1zM330 221h1v1h-1zM397 221h1v1h-1zM328 222h2v1h-2zM398 222h1v1h-1zM75 223h1v1h-1zM327 223h1v1h-1zM399 223h1v1h-1zM76 224h1v1h-1zM326 224h1v1h-1zM400 224h1v1h-1zM77 225h1v2h-1zM325 225h1v1h-1zM401 225h1v1h-1zM324 226h1v1h-1zM402 226h1v1h-1zM78 227h1v1h-1zM322 227h2v1h-2zM403 227h1v1h-1zM79 228h1v1h-1zM317 228h3v1h-3zM321 228h1v1h-1zM404 228h1v1h-1zM80 229h1v2h-1zM313 229h4v1h-4zM320 229h1v1h-1zM405 229h1v1h-1zM311 230h2v1h-2zM406 230h2v1h-2zM81 231h1v1h-1zM310 231h1v2h-1zM408 231h4v1h-4zM82 232h1v1h-1zM412 232h4v1h-4zM83 233h1v2h-1zM309 233h1v1h-1zM416 233h3v1h-3zM308 234h1v2h-1zM419 234h2v1h-2zM84 235h1v1h-1zM421 235h2v1h-2zM85 236h1v1h-1zM307 236h1v1h-1zM423 236h2v1h-2zM495 236h3v1h-3zM86 237h1v2h-1zM306 237h1v2h-1zM425 237h4v1h-4zM493 237h2v1h-2zM498 237h2v1h-2zM429 238h4v1h-4zM491 238h2v1h-2zM500 238h2v1h-2zM87 239h1v1h-1zM305 239h1v1h-1zM433 239h6v1h-6zM488 239h3v1h-3zM502 239h2v1h-2zM88 240h1v1h-1zM304 240h1v1h-1zM439 240h6v1h-6zM485 240h3v1h-3zM504 240h2v1h-2zM511 240h5v1h-5zM89 241h1v2h-1zM303 241h1v2h-1zM445 241h3v1h-3zM483 241h2v1h-2zM506 241h5v1h-5zM516 241h1v1h-1zM448 242h3v1h-3zM464 242h8v1h-8zM480 242h3v1h-3zM517 242h2v1h-2zM90 243h1v1h-1zM302 243h1v1h-1zM451 243h3v1h-3zM458 243h6v1h-6zM472 243h8v1h-8zM519 243h1v1h-1zM91 244h1v1h-1zM301 244h1v2h-1zM454 244h4v1h-4zM520 244h1v1h-1zM92 245h1v1h-1zM521 245h2v1h-2zM93 246h1v2h-1zM300 246h1v1h-1zM523 246h1v1h-1zM299 247h1v2h-1zM524 247h1v1h-1zM94 248h1v1h-1zM525 248h1v1h-1zM95 249h1v1h-1zM298 249h1v1h-1zM526 249h1v1h-1zM537 249h6v1h-6zM550 249h3v1h-3zM96 250h1v1h-1zM297 250h1v2h-1zM527 250h1v1h-1zM534 250h3v1h-3zM543 250h7v1h-7zM553 250h2v1h-2zM97 251h1v1h-1zM528 251h1v1h-1zM531 251h3v1h-3zM555 251h1v1h-1zM98 252h1v1h-1zM296 252h1v1h-1zM529 252h2v1h-2zM556 252h2v1h-2zM99 253h1v1h-1zM295 253h1v2h-1zM558 253h1v1h-1zM100 254h1v2h-1zM559 254h1v1h-1zM294 255h1v1h-1zM560 255h1v2h-1zM101 256h1v1h-1zM293 256h1v2h-1zM102 257h1v1h-1zM561 257h1v1h-1zM103 258h1v1h-1zM292 258h1v1h-1zM562 258h1v1h-1zM104 259h2v1h-2zM291 259h1v1h-1zM563 259h1v1h-1zM106 260h2v1h-2zM290 260h1v2h-1zM564 260h1v1h-1zM108 261h2v1h-2zM565 261h1v2h-1zM110 262h3v1h-3zM127 262h2v1h-2zM289 262h1v1h-1zM113 263h2v1h-2zM125 263h2v1h-2zM129 263h1v1h-1zM288 263h1v2h-1zM566 263h1v1h-1zM115 264h2v1h-2zM123 264h2v1h-2zM130 264h1v1h-1zM567 264h1v1h-1zM117 265h2v1h-2zM121 265h2v1h-2zM131 265h1v1h-1zM281 265h7v1h-7zM568 265h1v2h-1zM119 266h2v1h-2zM132 266h1v1h-1zM275 266h6v1h-6zM133 267h1v1h-1zM274 267h1v1h-1zM569 267h1v2h-1zM134 268h2v1h-2zM208 268h15v1h-15zM272 268h2v1h-2zM136 269h2v1h-2zM180 269h28v1h-28zM223 269h10v1h-10zM271 269h1v1h-1zM570 269h1v1h-1zM138 270h2v1h-2zM168 270h12v1h-12zM233 270h4v1h-4zM270 270h1v1h-1zM571 270h1v2h-1zM140 271h2v1h-2zM158 271h10v1h-10zM237 271h5v1h-5zM269 271h1v1h-1zM142 272h16v1h-16zM242 272h7v1h-7zM268 272h1v1h-1zM572 272h1v1h-1zM249 273h7v1h-7zM266 273h2v1h-2zM573 273h1v2h-1zM256 274h6v1h-6zM265 274h1v1h-1zM262 275h3v1h-3zM574 275h1v2h-1zM575 277h1v1h-1zM576 278h1v2h-1zM577 280h1v2h-1zM578 282h1v1h-1zM579 283h1v2h-1zM696 283h3v1h-3zM692 284h4v1h-4zM699 284h2v1h-2zM580 285h1v2h-1zM690 285h2v1h-2zM701 285h2v1h-2zM689 286h1v1h-1zM703 286h3v1h-3zM581 287h1v1h-1zM688 287h1v1h-1zM706 287h2v1h-2zM582 288h1v2h-1zM687 288h1v2h-1zM708 288h2v1h-2zM710 289h2v1h-2zM583 290h1v2h-1zM686 290h1v1h-1zM712 290h1v1h-1zM685 291h1v1h-1zM713 291h2v1h-2zM584 292h1v1h-1zM684 292h1v1h-1zM715 292h2v1h-2zM585 293h1v1h-1zM683 293h1v2h-1zM717 293h1v1h-1zM586 294h2v1h-2zM718 294h2v1h-2zM588 295h1v1h-1zM682 295h1v2h-1zM720 295h1v1h-1zM589 296h1v1h-1zM721 296h2v1h-2zM590 297h1v1h-1zM681 297h1v2h-1zM723 297h1v1h-1zM591 298h1v1h-1zM724 298h2v1h-2zM592 299h1v1h-1zM680 299h1v2h-1zM726 299h1v1h-1zM593 300h1v1h-1zM727 300h2v1h-2zM594 301h1v1h-1zM679 301h1v2h-1zM729 301h1v1h-1zM595 302h2v1h-2zM730 302h2v1h-2zM597 303h1v1h-1zM678 303h1v2h-1zM732 303h1v1h-1zM598 304h2v1h-2zM733 304h1v2h-1zM600 305h22v1h-22zM677 305h1v1h-1zM622 306h3v1h-3zM676 306h1v1h-1zM734 306h1v1h-1zM625 307h3v1h-3zM675 307h1v1h-1zM735 307h1v1h-1zM628 308h3v1h-3zM673 308h2v1h-2zM736 308h1v2h-1zM631 309h3v1h-3zM672 309h1v1h-1zM634 310h4v1h-4zM671 310h1v1h-1zM737 310h1v1h-1zM638 311h4v1h-4zM670 311h1v1h-1zM738 311h1v1h-1zM642 312h2v1h-2zM668 312h2v1h-2zM739 312h1v2h-1zM644 313h2v1h-2zM666 313h2v1h-2zM646 314h2v1h-2zM663 314h3v1h-3zM740 314h1v1h-1zM648 315h3v1h-3zM661 315h2v1h-2zM741 315h1v1h-1zM651 316h4v1h-4zM659 316h2v1h-2zM742 316h1v2h-1zM655 317h4v1h-4zM743 318h1v2h-1zM744 320h1v2h-1zM745 322h1v2h-1zM746 324h1v2h-1zM747 326h1v2h-1zM748 328h1v2h-1zM749 330h1v3h-1zM750 333h1v2h-1zM751 335h1v2h-1zM752 337h1v2h-1zM753 339h1v2h-1zM754 341h1v2h-1zM755 343h1v3h-1zM756 346h1v2h-1zM757 348h1v2h-1zM758 350h1v3h-1zM759 353h1v2h-1zM760 355h1v2h-1zM761 357h1v3h-1zM762 360h1v4h-1zM763 364h1v4h-1zM764 368h1v4h-1zM765 372h1v4h-1zM766 376h1v3h-1zM767 379h1v2h-1zM768 381h1v2h-1zM769 383h1v2h-1zM770 385h1v1h-1zM771 386h1v2h-1zM772 388h1v2h-1zM773 390h1v2h-1zM774 392h1v2h-1zM775 394h1v1h-1zM776 395h1v2h-1zM777 397h1v2h-1zM778 399h1v1h-1zM779 400h1v2h-1zM780 402h1v1h-1zM781 403h1v2h-1zM782 405h1v2h-1zM783 407h1v1h-1zM784 408h1v1h-1zM785 409h1v1h-1zM786 410h1v2h-1zM787 412h1v1h-1zM788 413h1v1h-1zM789 414h1v1h-1zM790 415h1v1h-1zM791 416h1v1h-1zM792 417h1v2h-1zM793 419h1v1h-1zM794 420h1v1h-1zM795 421h1v1h-1zM796 422h1v2h-1zM797 424h1v2h-1zM798 426h1v2h-1zM799 428h1v2h-1zM800 430h1v2h-1zM801 432h1v2h-1zM802 434h1v1h-1zM803 435h1v1h-1zM913 435h4v1h-4zM804 436h1v1h-1zM907 436h6v1h-6zM917 436h4v1h-4zM805 437h1v1h-1zM904 437h3v1h-3zM921 437h4v1h-4zM806 438h1v1h-1zM902 438h2v1h-2zM925 438h4v1h-4zM807 439h1v1h-1zM900 439h2v1h-2zM929 439h2v1h-2zM808 440h1v1h-1zM898 440h2v1h-2zM931 440h2v1h-2zM809 441h1v1h-1zM896 441h2v1h-2zM933 441h2v1h-2zM810 442h1v1h-1zM894 442h2v1h-2zM935 442h2v1h-2zM811 443h1v1h-1zM893 443h1v1h-1zM937 443h3v1h-3zM812 444h1v1h-1zM892 444h1v1h-1zM940 444h2v1h-2zM813 445h1v1h-1zM890 445h2v1h-2zM942 445h2v1h-2zM814 446h1v1h-1zM889 446h1v1h-1zM944 446h3v1h-3zM815 447h1v1h-1zM888 447h1v1h-1zM947 447h2v1h-2zM816 448h1v1h-1zM886 448h2v1h-2zM949 448h3v1h-3zM817 449h1v1h-1zM885 449h1v1h-1zM952 449h3v1h-3zM818 450h1v1h-1zM884 450h1v1h-1zM955 450h2v1h-2zM819 451h1v1h-1zM883 451h1v1h-1zM957 451h1v2h-1zM820 452h1v1h-1zM882 452h1v1h-1zM821 453h1v1h-1zM881 453h1v1h-1zM958 453h1v2h-1zM822 454h1v1h-1zM880 454h1v1h-1zM823 455h2v1h-2zM879 455h1v1h-1zM959 455h1v1h-1zM825 456h1v1h-1zM877 456h2v1h-2zM960 456h1v1h-1zM826 457h1v1h-1zM876 457h1v1h-1zM961 457h1v1h-1zM827 458h1v1h-1zM875 458h1v1h-1zM962 458h1v2h-1zM828 459h1v1h-1zM874 459h1v1h-1zM829 460h1v1h-1zM873 460h1v1h-1zM963 460h1v1h-1zM830 461h2v1h-2zM872 461h1v1h-1zM964 461h1v1h-1zM1230 461h4v1h-4zM832 462h2v1h-2zM871 462h1v1h-1zM965 462h1v1h-1zM1231 462h2v1h-2zM834 463h1v1h-1zM869 463h2v1h-2zM966 463h2v1h-2zM1229 463h2v1h-2zM1232 463h2v1h-2zM835 464h2v1h-2zM867 464h2v1h-2zM968 464h1v1h-1zM1227 464h2v1h-2zM1234 464h1v1h-1zM837 465h2v1h-2zM865 465h2v1h-2zM969 465h1v1h-1zM1225 465h2v1h-2zM1235 465h1v1h-1zM839 466h2v1h-2zM863 466h2v1h-2zM970 466h2v1h-2zM1187 466h9v1h-9zM1224 466h1v1h-1zM1236 466h1v1h-1zM841 467h3v1h-3zM861 467h2v1h-2zM972 467h2v1h-2zM1185 467h2v1h-2zM1196 467h2v1h-2zM1223 467h1v1h-1zM1237 467h1v1h-1zM844 468h4v1h-4zM859 468h2v1h-2zM974 468h2v1h-2zM1183 468h2v1h-2zM1198 468h2v1h-2zM1222 468h1v1h-1zM1238 468h1v1h-1zM848 469h5v1h-5zM857 469h2v1h-2zM976 469h2v1h-2zM999 469h5v1h-5zM1181 469h2v1h-2zM1200 469h2v1h-2zM1221 469h1v1h-1zM1239 469h2v1h-2zM853 470h4v1h-4zM978 470h2v1h-2zM994 470h5v1h-5zM1004 470h4v1h-4zM1180 470h1v1h-1zM1202 470h2v1h-2zM1220 470h1v1h-1zM1241 470h2v1h-2zM980 471h2v1h-2zM990 471h4v1h-4zM1008 471h3v1h-3zM1179 471h1v1h-1zM1204 471h2v1h-2zM1219 471h1v1h-1zM1243 471h4v1h-4zM982 472h2v1h-2zM986 472h4v1h-4zM1011 472h2v1h-2zM1178 472h1v2h-1zM1206 472h3v1h-3zM1217 472h2v1h-2zM1247 472h5v1h-5zM984 473h2v1h-2zM1013 473h2v1h-2zM1209 473h3v1h-3zM1215 473h2v1h-2zM1252 473h9v1h-9zM1015 474h1v1h-1zM1177 474h1v1h-1zM1212 474h3v1h-3zM1261 474h1v1h-1zM1016 475h1v1h-1zM1055 475h2v1h-2zM1176 475h1v1h-1zM1262 475h2v1h-2zM1017 476h1v1h-1zM1052 476h3v1h-3zM1057 476h1v1h-1zM1088 476h17v1h-17zM1174 476h2v1h-2zM1264 476h1v1h-1zM1018 477h1v1h-1zM1049 477h3v1h-3zM1058 477h2v1h-2zM1078 477h10v1h-10zM1105 477h3v1h-3zM1171 477h3v1h-3zM1265 477h1v1h-1zM1019 478h1v1h-1zM1046 478h3v1h-3zM1060 478h1v1h-1zM1076 478h2v1h-2zM1108 478h3v1h-3zM1169 478h2v1h-2zM1266 478h1v1h-1zM1020 479h1v1h-1zM1042 479h4v1h-4zM1061 479h3v1h-3zM1075 479h1v1h-1zM1111 479h3v1h-3zM1138 479h31v1h-31zM1267 479h2v1h-2zM1021 480h1v1h-1zM1040 480h2v1h-2zM1064 480h11v1h-11zM1114 480h3v1h-3zM1130 480h8v1h-8zM1269 480h1v1h-1zM1022 481h1v1h-1zM1038 481h2v1h-2zM1117 481h3v1h-3zM1124 481h6v1h-6zM1270 481h1v1h-1zM1023 482h1v1h-1zM1037 482h1v1h-1zM1120 482h4v1h-4zM1271 482h1v1h-1zM1024 483h2v1h-2zM1035 483h2v1h-2zM1272 483h1v2h-1zM1026 484h3v1h-3zM1032 484h3v1h-3zM1029 485h3v1h-3zM1273 485h1v1h-1zM1274 486h1v1h-1zM1275 487h1v2h-1zM1276 489h1v1h-1zM1277 490h1v1h-1zM1278 491h1v1h-1zM1279 492h2v1h-2zM1281 493h1v1h-1zM1282 494h1v1h-1zM1283 495h1v1h-1zM1284 496h1v1h-1zM1285 497h1v1h-1zM1286 498h1v1h-1zM1287 499h1v1h-1zM1288 500h1v1h-1zM1289 501h1v1h-1zM1290 502h1v1h-1zM1291 503h1v1h-1zM1292 504h1v1h-1zM1293 505h1v2h-1zM1294 507h1v1h-1zM1295 508h1v1h-1zM1296 509h1v2h-1zM1297 511h1v1h-1zM1298 512h1v2h-1zM1299 514h1v1h-1zM1300 515h1v1h-1zM1356 515h20v1h-20zM1301 516h1v2h-1zM1347 516h9v1h-9zM1376 516h19v1h-19zM1339 517h8v1h-8zM1395 517h4v1h-4zM1302 518h1v1h-1zM1331 518h8v1h-8zM1399 518h3v1h-3zM1303 519h1v1h-1zM1327 519h4v1h-4zM1304 520h1v1h-1zM1325 520h2v1h-2zM1305 521h1v1h-1zM1324 521h1v1h-1zM1306 522h1v1h-1zM1322 522h2v1h-2zM1307 523h1v1h-1zM1320 523h2v1h-2zM1308 524h2v1h-2zM1317 524h3v1h-3zM1310 525h2v1h-2zM1315 525h2v1h-2zM1312 526h3v1h-3z" fill="#3cb371"/>
<path d="M0 136h1v4h-1zM8 135h1v38h-1zM16 156h1v39h-1zM24 154h1v51h-1zM32 144h1v42h-1zM40 150h1v41h-1zM48 178h1v7h-1zM56 147h1v57h-1zM64 147h1v44h-1zM72 165h1v41h-1zM80 186h1v36h-1zM88 204h1v47h-1zM96 226h1v7h-1zM104 219h1v47h-1zM112 229h1v51h-1zM120 224h1v32h-1zM128 190h1v62h-1zM136 200h1v53h-1zM144 234h1v6h-1zM152 213h1v28h-1zM160 137h1v93h-1zM168 136h1v65h-1zM176 167h1v46h-1zM184 164h1v31h-1zM192 172h1v8h-1zM200 170h1v24h-1zM208 167h1v38h-1zM216 168h1v40h-1zM224 143h1v55h-1zM232 163h1v40h-1zM240 166h1v7h-1zM248 103h1v82h-1zM256 90h1v34h-1zM264 64h1v54h-1zM272 51h1v51h-1zM280 51h1v43h-1zM288 70h1v2h-1zM296 58h1v28h-1zM304 50h1v37h-1zM312 49h1v65h-1zM320 102h1v30h-1zM328 97h1v28h-1zM336 115h1v5h-1zM344 117h1v23h-1zM352 101h1v45h-1zM360 92h1v50h-1zM368 133h1v41h-1zM376 170h1v44h-1zM384 203h1v5h-1zM392 199h1v23h-1zM400 197h1v26h-1zM408 188h1v26h-1zM416 136h1v63h-1zM424 148h1v33h-1zM432 175h1v5h-1zM440 169h1v27h-1zM448 166h1v54h-1zM456 189h1v44h-1zM464 180h1v30h-1zM472 189h1v29h-1zM480 189h1v8h-1zM488 155h1v46h-1zM496 163h1v37h-1zM504 96h1v84h-1zM512 66h1v61h-1zM520 88h1v38h-1zM528 77h1v31h-1zM536 77h1v84h-1zM544 150h1v73h-1zM552 115h1v110h-1zM560 180h1v81h-1zM568 224h1v42h-1zM576 252h1v14h-1zM584 259h1v56h-1zM592 248h1v36h-1zM600 234h1v38h-1zM608 195h1v51h-1zM616 183h1v31h-1zM624 204h1v9h-1zM632 208h1v33h-1zM640 215h1v27h-1zM648 212h1v46h-1zM656 210h1v38h-1zM664 224h1v32h-1zM672 225h1v8h-1zM680 215h1v37h-1zM688 227h1v53h-1zM696 260h1v24h-1zM704 263h1v18h-1zM712 262h1v30h-1zM720 284h1v5h-1zM728 270h1v48h-1zM736 280h1v33h-1zM744 298h1v27h-1zM752 308h1v48h-1zM760 343h1v53h-1zM768 390h1v13h-1zM776 366h1v32h-1zM784 369h1v32h-1zM792 365h1v36h-1zM800 368h1v66h-1zM808 387h1v42h-1zM816 409h1v5h-1zM824 389h1v38h-1zM832 390h1v54h-1zM840 389h1v49h-1zM848 410h1v34h-1zM856 384h1v39h-1zM864 377h1v14h-1zM872 299h1v82h-1zM880 311h1v48h-1zM888 322h1v44h-1zM896 342h1v35h-1zM904 356h1v11h-1zM912 342h1v35h-1zM920 360h1v35h-1zM928 369h1v43h-1zM936 400h1v31h-1zM944 421h1v6h-1zM952 384h1v73h-1zM960 389h1v72h-1zM968 424h1v52h-1zM976 419h1v38h-1zM984 414h1v46h-1zM992 418h1v28h-1zM1000 364h1v64h-1zM1008 387h1v47h-1zM1016 412h1v39h-1zM1024 433h1v45h-1zM1032 402h1v71h-1zM1040 398h1v27h-1zM1048 384h1v31h-1zM1056 402h1v28h-1zM1064 419h1v69h-1zM1072 464h1v33h-1zM1080 415h1v55h-1zM1088 422h1v5h-1zM1096 394h1v51h-1zM1104 392h1v51h-1zM1112 371h1v76h-1zM1120 338h1v53h-1zM1128 343h1v75h-1zM1136 373h1v21h-1zM1144 347h1v58h-1zM1152 346h1v50h-1zM1160 377h1v28h-1zM1168 359h1v37h-1zM1176 365h1v39h-1zM1184 402h1v7h-1zM1192 392h1v27h-1zM1200 402h1v42h-1zM1208 431h1v24h-1zM1216 431h1v29h-1zM1224 403h1v48h-1zM1232 442h1v7h-1zM1240 442h1v32h-1zM1248 430h1v56h-1zM1256 412h1v33h-1zM1264 420h1v37h-1zM1272 430h1v65h-1zM1280 482h1v10h-1zM1288 462h1v40h-1zM1296 465h1v38h-1zM1304 492h1v51h-1zM1312 483h1v80h-1zM1320 421h1v78h-1zM1328 419h1v20h-1zM1336 430h1v40h-1zM1344 438h1v54h-1zM1352 450h1v44h-1zM1360 440h1v66h-1zM1368 417h1v50h-1zM1376 466h1v9h-1zM1384 437h1v37h-1zM1392 445h1v52h-1zM1400 446h1v39h-1zM-2 136h5v4h-5zM6 139h5v18h-5zM14 156h5v35h-5zM22 162h5v29h-5zM30 162h5v21h-5zM38 174h5v9h-5zM46 179h5v5h-5zM54 158h5v22h-5zM62 158h5v29h-5zM70 186h5v15h-5zM78 200h5v10h-5zM86 209h5v18h-5zM94 228h5v4h-5zM102 231h5v25h-5zM110 246h5v11h-5zM118 246h5v5h-5zM126 202h5v49h-5zM134 202h5v51h-5zM142 235h5v1h-5zM150 224h5v11h-5zM158 147h5v78h-5zM166 147h5v47h-5zM174 174h5v19h-5zM182 172h5v4h-5zM190 176h5v3h-5zM198 178h5v3h-5zM206 171h5v10h-5zM214 171h5v8h-5zM222 178h5v19h-5zM230 170h5v25h-5zM238 167h5v4h-5zM246 113h5v57h-5zM254 113h5v3h-5zM262 67h5v49h-5zM270 67h5v21h-5zM278 62h5v25h-5zM286 70h5v2h-5zM294 70h5v14h-5zM302 69h5v15h-5zM310 69h5v42h-5zM318 110h5v13h-5zM326 112h5v10h-5zM334 115h5v4h-5zM342 118h5v20h-5zM350 103h5v34h-5zM358 104h5v33h-5zM366 136h5v37h-5zM374 172h5v33h-5zM382 205h5v2h-5zM390 205h5v11h-5zM398 200h5v17h-5zM406 194h5v7h-5zM414 153h5v42h-5zM422 153h5v25h-5zM430 176h5v3h-5zM438 173h5v6h-5zM446 173h5v39h-5zM454 193h5v19h-5zM462 193h5v10h-5zM470 198h5v5h-5zM478 189h5v8h-5zM486 165h5v32h-5zM494 165h5v8h-5zM502 108h5v65h-5zM510 106h5v3h-5zM518 104h5v3h-5zM526 79h5v29h-5zM534 77h5v81h-5zM542 157h5v64h-5zM550 209h5v12h-5zM558 207h5v25h-5zM566 231h5v32h-5zM574 254h5v10h-5zM582 263h5v10h-5zM590 259h5v14h-5zM598 244h5v16h-5zM606 202h5v42h-5zM614 202h5v1h-5zM622 204h5v6h-5zM630 209h5v27h-5zM638 219h5v17h-5zM646 219h5v10h-5zM654 228h5v1h-5zM662 224h5v6h-5zM670 228h5v3h-5zM678 230h5v7h-5zM686 236h5v43h-5zM694 276h5v3h-5zM702 264h5v11h-5zM710 265h5v20h-5zM718 286h5v1h-5zM726 280h5v6h-5zM734 280h5v32h-5zM742 311h5v10h-5zM750 320h5v28h-5zM758 347h5v48h-5zM766 393h5v5h-5zM774 381h5v13h-5zM782 376h5v6h-5zM790 368h5v7h-5zM798 368h5v48h-5zM806 399h5v17h-5zM814 409h5v3h-5zM822 405h5v5h-5zM830 404h5v34h-5zM838 411h5v27h-5zM846 411h5v10h-5zM854 390h5v31h-5zM862 377h5v11h-5zM870 355h5v23h-5zM878 334h5v22h-5zM886 334h5v27h-5zM894 352h5v8h-5zM902 359h5v3h-5zM910 360h5v3h-5zM918 360h5v12h-5zM926 371h5v39h-5zM934 409h5v21h-5zM942 424h5v1h-5zM950 393h5v32h-5zM958 393h5v58h-5zM966 450h5v7h-5zM974 445h5v11h-5zM982 431h5v15h-5zM990 422h5v24h-5zM998 398h5v26h-5zM1006 398h5v36h-5zM1014 433h5v6h-5zM1022 438h5v28h-5zM1030 422h5v44h-5zM1038 398h5v27h-5zM1046 400h5v11h-5zM1054 410h5v16h-5zM1062 425h5v51h-5zM1070 464h5v12h-5zM1078 422h5v44h-5zM1086 423h5v3h-5zM1094 418h5v7h-5zM1102 416h5v26h-5zM1110 374h5v68h-5zM1118 367h5v8h-5zM1126 367h5v15h-5zM1134 383h5v9h-5zM1142 357h5v27h-5zM1150 356h5v35h-5zM1158 391h5v1h-5zM1166 369h5v23h-5zM1174 370h5v31h-5zM1182 404h5v3h-5zM1190 405h5v12h-5zM1198 416h5v24h-5zM1206 438h5v1h-5zM1214 438h5v1h-5zM1222 435h5v1h-5zM1230 444h5v1h-5zM1238 443h5v29h-5zM1246 430h5v42h-5zM1254 430h5v8h-5zM1262 437h5v11h-5zM1270 447h5v28h-5zM1278 483h5v8h-5zM1286 485h5v7h-5zM1294 484h5v10h-5zM1302 493h5v45h-5zM1310 483h5v55h-5zM1318 433h5v51h-5zM1326 420h5v19h-5zM1334 438h5v32h-5zM1342 468h5v4h-5zM1350 451h5v21h-5zM1358 448h5v4h-5zM1366 448h5v9h-5zM1374 466h5v8h-5zM1382 459h5v15h-5zM1390 459h5v8h-5zM1398 466h5v8h-5z" fill="#000"/>
<path d="M23 163h3v27h-3zM39 175h3v7h-3zM47 180h3v3h-3zM55 159h3v20h-3zM111 247h3v9h-3zM127 203h3v47h-3zM151 225h3v9h-3zM159 148h3v76h-3zM175 175h3v17h-3zM183 173h3v2h-3zM207 172h3v8h-3zM231 171h3v23h-3zM247 114h3v55h-3zM263 68h3v47h-3zM279 63h3v23h-3zM303 70h3v13h-3zM327 113h3v8h-3zM351 104h3v32h-3zM399 201h3v15h-3zM407 195h3v5h-3zM415 154h3v40h-3zM439 174h3v4h-3zM455 194h3v17h-3zM471 199h3v3h-3zM487 166h3v30h-3zM503 109h3v63h-3zM511 107h3v1h-3zM519 105h3v1h-3zM527 80h3v27h-3zM551 210h3v10h-3zM591 260h3v12h-3zM599 245h3v14h-3zM607 203h3v40h-3zM639 220h3v15h-3zM663 225h3v4h-3zM695 277h3v1h-3zM703 265h3v9h-3zM727 281h3v4h-3zM767 394h3v3h-3zM775 382h3v11h-3zM783 377h3v4h-3zM791 369h3v5h-3zM807 400h3v15h-3zM815 410h3v1h-3zM823 406h3v3h-3zM839 412h3v25h-3zM855 391h3v29h-3zM863 378h3v9h-3zM871 356h3v21h-3zM879 335h3v20h-3zM895 353h3v6h-3zM911 361h3v1h-3zM951 394h3v30h-3zM975 446h3v9h-3zM983 432h3v13h-3zM991 423h3v22h-3zM999 399h3v24h-3zM1031 423h3v42h-3zM1039 399h3v25h-3zM1071 465h3v10h-3zM1079 423h3v42h-3zM1087 424h3v1h-3zM1095 419h3v5h-3zM1111 375h3v66h-3zM1119 368h3v6h-3zM1135 384h3v7h-3zM1143 358h3v25h-3zM1167 370h3v21h-3zM1247 431h3v40h-3zM1287 486h3v5h-3zM1311 484h3v53h-3zM1319 434h3v49h-3zM1351 452h3v19h-3zM1359 449h3v2h-3zM1383 460h3v13h-3z" fill="#fff"/>
<rect x="1665" y="451" width="5" height="5" fill="#0000ff"/>
<rect x="1666" y="452" width="3" height="3" fill="#fff"/>
<rect x="1176" y="474" width="274" height="7" fill="#00f400"/>
</g>
<rect x="801.5" y="291.5" width="61" height="18" fill="#fff" stroke="#ff0000" stroke-width="1" shape-rendering="crispEdges"/>
<text x="803.8" y="306.3" font-size="17" textLength="57.6" lengthAdjust="spacingAndGlyphs" fill="#ff0000">1.29536</text>
<rect x="863" y="300" width="10" height="1" fill="#ff0000" shape-rendering="crispEdges"/>
<rect x="1049.5" y="329.5" width="61" height="18" fill="#fff" stroke="#ff0000" stroke-width="1" shape-rendering="crispEdges"/>
<text x="1051.8" y="344.3" font-size="17" textLength="57.6" lengthAdjust="spacingAndGlyphs" fill="#ff0000">1.28831</text>
<rect x="1111" y="338" width="10" height="1" fill="#ff0000" shape-rendering="crispEdges"/>
<rect x="1241.5" y="553.5" width="61" height="18" fill="#fff" stroke="#ff0000" stroke-width="1" shape-rendering="crispEdges"/>
<text x="1243.8" y="568.3" font-size="17" textLength="57.6" lengthAdjust="spacingAndGlyphs" fill="#ff0000">1.24671</text>
<rect x="1303" y="562" width="10" height="1" fill="#ff0000" shape-rendering="crispEdges"/>
<rect x="883.5" y="465.5" width="73" height="24" fill="#fff" stroke="#ff0000" stroke-width="1" shape-rendering="crispEdges"/>
<text x="886.6" y="485.4" font-size="21.5" textLength="68.4" lengthAdjust="spacingAndGlyphs" fill="#ff0000">1.26250</text>
<rect x="873" y="477" width="10" height="1" fill="#ff0000" shape-rendering="crispEdges"/>
<g stroke="#ff0000" stroke-width="3.3" stroke-linecap="round">
<line x1="1306.7" y1="562.7" x2="1327.9" y2="434.1"/>
<line x1="1329.2" y1="426.2" x2="1357.2" y2="493.6"/>
<line x1="1360.3" y1="501.0" x2="1362.3" y2="437.0"/>
<line x1="1362.6" y1="429.0" x2="1381.8" y2="483.4"/>
<line x1="1384.5" y1="491.0" x2="1396.9" y2="476.6"/>
</g>
<g fill="#ff0000">
<polygon points="1329.2,426.2 1331.9,438.3 1322.8,436.8"/>
<polygon points="1360.3,501.0 1351.6,492.1 1360.1,488.6"/>
<polygon points="1362.6,429.0 1366.8,440.6 1357.6,440.3"/>
<polygon points="1384.5,491.0 1376.3,481.7 1385.0,478.6"/>
<polygon points="1401.0,471.8 1398.3,481.4 1391.9,475.9"/>
</g>
<text x="1465.5" y="496.0" font-size="20.5" textLength="107.5" lengthAdjust="spacingAndGlyphs" fill="#00ff00" font-weight="300" font-family='"Liberation Serif", "Noto Serif CJK SC", serif'>多空转折点</text>
<polygon points="0,30.3 2.2,33.6 0,33.6" fill="#000"/>
<text x="7.7" y="34.0" font-size="9.9" textLength="67.8" lengthAdjust="spacingAndGlyphs">USDCAD-,Daily</text>
<text x="82.5" y="34.0" font-size="9.9" textLength="32.1" lengthAdjust="spacingAndGlyphs">1.26454</text>
<text x="118.5" y="34.0" font-size="9.9" textLength="32.5" lengthAdjust="spacingAndGlyphs">1.26823</text>
<text x="154.5" y="34.0" font-size="9.9" textLength="32.1" lengthAdjust="spacingAndGlyphs">1.26121</text>
<text x="190.8" y="34.0" font-size="9.9" textLength="31.5" lengthAdjust="spacingAndGlyphs">1.26167</text>
<polygon points="1412,23 1423,23 1417.5,28" fill="#c0c0c0"/>
<g shape-rendering="crispEdges">
<rect x="0" y="42" width="214" height="64" fill="#fff"/>
<rect x="0" y="42" width="46" height="25" fill="url(#gTop)"/>
<rect x="163" y="42" width="51" height="25" fill="url(#gTop)"/>
<rect x="0" y="66" width="104" height="40" fill="url(#gBot)"/>
<rect x="106" y="66" width="108" height="40" fill="url(#gBot)"/>
<rect x="0" y="66" width="43" height="1" fill="#8c8cf8"/>
<rect x="166" y="66" width="44" height="1" fill="#8c8cf8"/>
<rect x="47" y="42" width="115" height="24" fill="#f4f4f4"/>
<rect x="49" y="42" width="111" height="22" fill="#a8a8a8"/>
<rect x="50" y="43" width="109" height="20" fill="#fff"/>
<rect x="50" y="43" width="20" height="20" fill="url(#gBtn)"/>
<rect x="139" y="43" width="20" height="20" fill="url(#gBtn)"/>
<rect x="70" y="43" width="1" height="20" fill="#b4b4b4"/>
<rect x="138" y="43" width="1" height="20" fill="#b4b4b4"/>
</g>
<polygon points="56.5,51 62.5,51 59.5,54.5" fill="#4a5fc0"/>
<polygon points="145.5,54.5 151.5,54.5 148.5,51" fill="#4a5fc0"/>
<text x="111.5" y="56.7" font-size="12" textLength="23.0" lengthAdjust="spacingAndGlyphs" fill="#111">1.00</text>
<text x="7.7" y="57.7" font-size="12.2" textLength="25.0" lengthAdjust="spacingAndGlyphs" fill="#fff">SELL</text>
<text x="175.8" y="57.7" font-size="12.2" textLength="22.8" lengthAdjust="spacingAndGlyphs" fill="#fff">BUY</text>
<text x="15.4" y="96.3" font-size="10.8" textLength="23.0" lengthAdjust="spacingAndGlyphs" fill="#fff" font-weight="bold">1.26</text>
<text x="43.5" y="96.3" font-size="31.6" textLength="34.5" lengthAdjust="spacingAndGlyphs" fill="#fff" font-weight="200" font-family='"DejaVu Sans", "Liberation Sans", sans-serif' stroke="#fff" stroke-width="0.8">16</text>
<text x="82.4" y="80.8" font-size="11.6" textLength="6.0" lengthAdjust="spacingAndGlyphs" fill="#fff" font-weight="bold">7</text>
<text x="125.6" y="96.3" font-size="10.8" textLength="23.0" lengthAdjust="spacingAndGlyphs" fill="#fff" font-weight="bold">1.26</text>
<text x="154.3" y="96.3" font-size="31.6" textLength="34.5" lengthAdjust="spacingAndGlyphs" fill="#fff" font-weight="200" font-family='"DejaVu Sans", "Liberation Sans", sans-serif' stroke="#fff" stroke-width="0.8">18</text>
<text x="193.4" y="80.8" font-size="11.6" textLength="6.4" lengthAdjust="spacingAndGlyphs" fill="#fff" font-weight="bold">9</text>
<g shape-rendering="crispEdges" fill="#000">
<rect x="0" y="22" width="1671" height="1" fill="#000"/>
<rect x="1670" y="22" width="1" height="902" fill="#000"/>
<rect x="0" y="575" width="1671" height="1" fill="#000"/>
<rect x="0" y="576" width="1671" height="1" fill="#fff"/>
<rect x="0" y="577" width="1671" height="1" fill="#000"/>
<rect x="0" y="747" width="1671" height="1" fill="#000"/>
<rect x="0" y="748" width="1671" height="1" fill="#fff"/>
<rect x="0" y="749" width="1671" height="1" fill="#000"/>
<rect x="0" y="923" width="1671" height="1" fill="#000"/>
<rect x="1716" y="20" width="1" height="921" fill="#d4d4d4"/>
</g>
<g shape-rendering="crispEdges">
<rect x="1671" y="44" width="2" height="1" fill="#000"/><rect x="1671" y="77" width="2" height="1" fill="#000"/><rect x="1671" y="110" width="2" height="1" fill="#000"/><rect x="1671" y="143" width="2" height="1" fill="#000"/><rect x="1671" y="176" width="2" height="1" fill="#000"/><rect x="1671" y="209" width="2" height="1" fill="#000"/><rect x="1671" y="242" width="2" height="1" fill="#000"/><rect x="1671" y="275" width="2" height="1" fill="#000"/><rect x="1671" y="308" width="2" height="1" fill="#000"/><rect x="1671" y="341" width="2" height="1" fill="#000"/><rect x="1671" y="374" width="2" height="1" fill="#000"/><rect x="1671" y="407" width="2" height="1" fill="#000"/><rect x="1671" y="440" width="2" height="1" fill="#000"/><rect x="1671" y="473" width="2" height="1" fill="#000"/><rect x="1671" y="506" width="2" height="1" fill="#000"/><rect x="1671" y="539" width="2" height="1" fill="#000"/><rect x="1671" y="572" width="2" height="1" fill="#000"/>
</g>
<text x="1676.5" y="48.0" font-size="9.9" textLength="32.3" lengthAdjust="spacingAndGlyphs">1.34300</text>
<text x="1676.5" y="81.0" font-size="9.9" textLength="32.3" lengthAdjust="spacingAndGlyphs">1.33685</text>
<text x="1676.5" y="114.0" font-size="9.9" textLength="32.3" lengthAdjust="spacingAndGlyphs">1.33070</text>
<text x="1676.5" y="147.0" font-size="9.9" textLength="32.3" lengthAdjust="spacingAndGlyphs">1.32455</text>
<text x="1676.5" y="180.0" font-size="9.9" textLength="32.3" lengthAdjust="spacingAndGlyphs">1.31840</text>
<text x="1676.5" y="213.0" font-size="9.9" textLength="32.3" lengthAdjust="spacingAndGlyphs">1.31225</text>
<text x="1676.5" y="246.0" font-size="9.9" textLength="32.3" lengthAdjust="spacingAndGlyphs">1.30610</text>
<text x="1676.5" y="279.0" font-size="9.9" textLength="32.3" lengthAdjust="spacingAndGlyphs">1.29995</text>
<text x="1676.5" y="312.0" font-size="9.9" textLength="32.3" lengthAdjust="spacingAndGlyphs">1.29380</text>
<text x="1676.5" y="345.0" font-size="9.9" textLength="32.3" lengthAdjust="spacingAndGlyphs">1.28765</text>
<text x="1676.5" y="378.0" font-size="9.9" textLength="32.3" lengthAdjust="spacingAndGlyphs">1.28165</text>
<text x="1676.5" y="411.0" font-size="9.9" textLength="32.3" lengthAdjust="spacingAndGlyphs">1.27550</text>
<text x="1676.5" y="444.0" font-size="9.9" textLength="32.3" lengthAdjust="spacingAndGlyphs">1.26935</text>
<text x="1676.5" y="477.0" font-size="9.9" textLength="32.3" lengthAdjust="spacingAndGlyphs">1.26320</text>
<text x="1676.5" y="510.0" font-size="9.9" textLength="32.3" lengthAdjust="spacingAndGlyphs">1.25705</text>
<text x="1676.5" y="543.0" font-size="9.9" textLength="32.3" lengthAdjust="spacingAndGlyphs">1.25090</text>
<text x="1676.5" y="576.0" font-size="9.9" textLength="32.3" lengthAdjust="spacingAndGlyphs">1.24475</text>
<rect x="1672" y="426" width="41" height="11" fill="#0000ff" shape-rendering="crispEdges"/>
<text x="1676.5" y="435.0" font-size="9.9" textLength="32.3" lengthAdjust="spacingAndGlyphs" fill="#fff">1.27085</text>
<rect x="1672" y="447" width="41" height="11" fill="#0000ff" shape-rendering="crispEdges"/>
<text x="1676.5" y="456.0" font-size="9.9" textLength="32.3" lengthAdjust="spacingAndGlyphs" fill="#fff">1.26695</text>
<rect x="1672" y="476" width="41" height="11" fill="#000000" shape-rendering="crispEdges"/>
<text x="1676.5" y="485.0" font-size="9.9" textLength="32.3" lengthAdjust="spacingAndGlyphs" fill="#fff">1.26167</text>
<rect x="1672" y="471" width="41" height="11" fill="#32cd32" shape-rendering="crispEdges"/>
<text x="1676.5" y="480.0" font-size="9.9" textLength="32.3" lengthAdjust="spacingAndGlyphs" fill="#fff">1.26250</text>
<rect x="1672" y="493" width="41" height="11" fill="#ff4500" shape-rendering="crispEdges"/>
<text x="1676.5" y="502.0" font-size="9.9" textLength="32.3" lengthAdjust="spacingAndGlyphs" fill="#fff">1.25841</text>
<rect x="1672" y="517" width="41" height="11" fill="#ff0000" shape-rendering="crispEdges"/>
<text x="1676.5" y="526.0" font-size="9.9" textLength="32.3" lengthAdjust="spacingAndGlyphs" fill="#fff">1.25392</text>
<g shape-rendering="crispEdges">
<path d="M0 641h1v70h-1zM8 641h1v71h-1zM16 641h1v77h-1zM24 641h1v76h-1zM32 641h1v78h-1zM40 641h1v77h-1zM48 641h1v77h-1zM56 641h1v72h-1zM64 641h1v72h-1zM72 641h1v74h-1zM80 641h1v75h-1zM88 641h1v78h-1zM96 641h1v81h-1zM104 641h1v85h-1zM112 641h1v87h-1zM120 641h1v87h-1zM128 641h1v80h-1zM136 641h1v80h-1zM144 641h1v77h-1zM152 641h1v72h-1zM160 641h1v55h-1zM168 641h1v48h-1zM176 641h1v40h-1zM184 641h1v32h-1zM192 641h1v28h-1zM200 641h1v23h-1zM208 641h1v18h-1zM216 641h1v15h-1zM224 641h1v15h-1zM232 641h1v11h-1zM240 641h1v8h-1zM248 638h1v4h-1zM256 629h1v13h-1zM264 615h1v27h-1zM272 607h1v35h-1zM280 598h1v44h-1zM288 592h1v50h-1zM296 590h1v52h-1zM304 587h1v55h-1zM312 592h1v50h-1zM320 598h1v44h-1zM328 602h1v40h-1zM336 606h1v36h-1zM344 613h1v29h-1zM352 613h1v29h-1zM360 619h1v23h-1zM368 629h1v13h-1zM376 641h1v1h-1zM384 641h1v12h-1zM392 641h1v21h-1zM400 641h1v26h-1zM408 641h1v29h-1zM416 641h1v25h-1zM424 641h1v24h-1zM432 641h1v24h-1zM440 641h1v23h-1zM448 641h1v28h-1zM456 641h1v28h-1zM464 641h1v30h-1zM472 641h1v30h-1zM480 641h1v30h-1zM488 641h1v24h-1zM496 641h1v21h-1zM504 641h1v8h-1zM512 639h1v3h-1zM520 630h1v12h-1zM528 619h1v23h-1zM536 624h1v18h-1zM544 637h1v5h-1zM552 641h1v4h-1zM560 641h1v15h-1zM568 641h1v27h-1zM576 641h1v37h-1zM584 641h1v46h-1zM592 641h1v51h-1zM600 641h1v51h-1zM608 641h1v44h-1zM616 641h1v38h-1zM624 641h1v35h-1zM632 641h1v35h-1zM640 641h1v33h-1zM648 641h1v32h-1zM656 641h1v31h-1zM664 641h1v29h-1zM672 641h1v28h-1zM680 641h1v28h-1zM688 641h1v35h-1zM696 641h1v39h-1zM704 641h1v40h-1zM712 641h1v43h-1zM720 641h1v46h-1zM728 641h1v46h-1zM736 641h1v51h-1zM744 641h1v56h-1zM752 641h1v63h-1zM760 641h1v76h-1zM768 641h1v84h-1zM776 641h1v88h-1zM784 641h1v90h-1zM792 641h1v88h-1zM800 641h1v94h-1zM808 641h1v94h-1zM816 641h1v95h-1zM824 641h1v94h-1zM832 641h1v98h-1zM840 641h1v95h-1zM848 641h1v94h-1zM856 641h1v86h-1zM864 641h1v78h-1zM872 641h1v67h-1zM880 641h1v54h-1zM888 641h1v47h-1zM896 641h1v40h-1zM904 641h1v36h-1zM912 641h1v32h-1zM920 641h1v30h-1zM928 641h1v35h-1zM936 641h1v41h-1zM944 641h1v44h-1zM952 641h1v43h-1zM960 641h1v48h-1zM968 641h1v53h-1zM976 641h1v55h-1zM984 641h1v54h-1zM992 641h1v51h-1zM1000 641h1v44h-1zM1008 641h1v44h-1zM1016 641h1v44h-1zM1024 641h1v48h-1zM1032 641h1v44h-1zM1040 641h1v36h-1zM1048 641h1v32h-1zM1056 641h1v30h-1zM1064 641h1v36h-1zM1072 641h1v39h-1zM1080 641h1v34h-1zM1088 641h1v30h-1zM1096 641h1v26h-1zM1104 641h1v26h-1zM1112 641h1v15h-1zM1120 641h1v5h-1zM1128 641h1v1h-1zM1136 638h1v4h-1zM1144 630h1v12h-1zM1152 630h1v12h-1zM1160 630h1v12h-1zM1168 627h1v15h-1zM1176 630h1v12h-1zM1184 632h1v10h-1zM1192 637h1v5h-1zM1200 641h1v1h-1zM1208 641h1v7h-1zM1216 641h1v11h-1zM1224 641h1v13h-1zM1232 641h1v16h-1zM1240 641h1v23h-1zM1248 641h1v23h-1zM1256 641h1v21h-1zM1264 641h1v23h-1zM1272 641h1v28h-1zM1280 641h1v34h-1zM1288 641h1v38h-1zM1296 641h1v41h-1zM1304 641h1v51h-1zM1312 641h1v49h-1zM1320 641h1v39h-1zM1328 641h1v31h-1zM1336 641h1v30h-1zM1344 641h1v28h-1zM1352 641h1v25h-1zM1360 641h1v21h-1zM1368 641h1v18h-1zM1376 641h1v18h-1zM1384 641h1v18h-1zM1392 641h1v19h-1zM1400 641h1v19h-1z" fill="#c0c0c0"/>
<path d="M336 596h3v1h-3zM342 596h3v1h-3zM330 597h3v1h-3zM348 597h3v1h-3zM325 598h2v1h-2zM354 598h1v1h-1zM324 599h1v1h-1zM355 599h2v1h-2zM320 600h1v1h-1zM318 601h2v1h-2zM360 601h1v1h-1zM361 602h1v1h-1zM362 603h1v1h-1zM313 604h2v1h-2zM312 605h1v1h-1zM366 605h1v1h-1zM367 606h2v1h-2zM308 608h1v1h-1zM307 609h1v1h-1zM372 609h1v1h-1zM306 610h1v1h-1zM373 610h1v1h-1zM374 611h1v1h-1zM301 614h2v1h-2zM378 614h2v1h-2zM300 615h1v1h-1zM380 615h1v1h-1zM384 618h1v1h-1zM296 619h1v1h-1zM385 619h1v1h-1zM295 620h1v1h-1zM386 620h1v1h-1zM294 621h1v1h-1zM390 623h1v1h-1zM290 624h1v1h-1zM391 624h1v1h-1zM289 625h1v1h-1zM392 625h1v1h-1zM288 626h1v1h-1zM396 628h1v1h-1zM284 629h1v1h-1zM397 629h1v1h-1zM283 630h1v1h-1zM398 630h1v1h-1zM282 631h1v1h-1zM1194 632h3v1h-3zM1200 632h3v1h-3zM402 633h1v1h-1zM1188 633h3v1h-3zM1206 633h3v1h-3zM278 634h1v1h-1zM403 634h1v1h-1zM1182 634h3v1h-3zM1212 634h1v1h-1zM277 635h1v1h-1zM404 635h1v1h-1zM1178 635h1v1h-1zM1213 635h2v1h-2zM276 636h1v1h-1zM1176 636h2v1h-2zM1218 636h2v1h-2zM1220 637h1v1h-1zM1172 638h1v1h-1zM1224 638h1v1h-1zM272 639h1v1h-1zM408 639h1v1h-1zM1171 639h1v1h-1zM1225 639h2v1h-2zM271 640h1v1h-1zM409 640h1v1h-1zM558 640h3v1h-3zM564 640h3v1h-3zM570 640h1v1h-1zM1170 640h1v1h-1zM270 641h1v1h-1zM410 641h1v1h-1zM552 641h3v1h-3zM571 641h2v1h-2zM1230 641h3v1h-3zM547 642h2v1h-2zM1166 642h1v1h-1zM546 643h1v1h-1zM576 643h2v1h-2zM1164 643h2v1h-2zM1236 643h1v1h-1zM266 644h1v1h-1zM414 644h1v1h-1zM542 644h1v1h-1zM578 644h1v1h-1zM1237 644h2v1h-2zM265 645h1v1h-1zM415 645h1v1h-1zM540 645h2v1h-2zM264 646h1v1h-1zM416 646h1v1h-1zM1159 646h2v1h-2zM582 647h1v1h-1zM1158 647h1v1h-1zM1242 647h2v1h-2zM535 648h2v1h-2zM583 648h1v1h-1zM1244 648h1v1h-1zM260 649h1v1h-1zM420 649h1v1h-1zM534 649h1v1h-1zM584 649h1v1h-1zM1154 649h1v1h-1zM259 650h1v1h-1zM421 650h2v1h-2zM1152 650h2v1h-2zM1248 650h2v1h-2zM258 651h1v1h-1zM1250 651h1v1h-1zM529 652h2v1h-2zM588 652h1v1h-1zM1254 652h1v1h-1zM426 653h1v1h-1zM528 653h1v1h-1zM589 653h1v1h-1zM1147 653h2v1h-2zM1255 653h2v1h-2zM1260 653h1v1h-1zM253 654h2v1h-2zM427 654h1v1h-1zM590 654h1v1h-1zM1146 654h1v1h-1zM1261 654h2v1h-2zM252 655h1v1h-1zM428 655h1v1h-1zM523 655h2v1h-2zM522 656h1v1h-1zM1142 656h1v1h-1zM1266 656h1v1h-1zM248 657h1v1h-1zM432 657h1v1h-1zM594 657h1v1h-1zM1141 657h1v1h-1zM1267 657h2v1h-2zM246 658h2v1h-2zM433 658h2v1h-2zM518 658h1v1h-1zM595 658h1v1h-1zM1140 658h1v1h-1zM517 659h1v1h-1zM596 659h1v1h-1zM1272 659h2v1h-2zM242 660h1v1h-1zM516 660h1v1h-1zM1136 660h1v1h-1zM1274 660h1v1h-1zM240 661h2v1h-2zM438 661h2v1h-2zM1134 661h2v1h-2zM1278 661h1v1h-1zM440 662h1v1h-1zM1279 662h2v1h-2zM236 663h1v1h-1zM444 663h1v1h-1zM511 663h2v1h-2zM600 663h1v1h-1zM1130 663h1v1h-1zM1284 663h1v1h-1zM1398 663h3v1h-3zM235 664h1v1h-1zM445 664h2v1h-2zM510 664h1v1h-1zM601 664h1v1h-1zM1128 664h2v1h-2zM1285 664h2v1h-2zM1392 664h3v1h-3zM234 665h1v1h-1zM450 665h3v1h-3zM505 665h2v1h-2zM602 665h1v1h-1zM1290 665h1v1h-1zM1387 665h2v1h-2zM456 666h1v1h-1zM504 666h1v1h-1zM1124 666h1v1h-1zM1291 666h2v1h-2zM1386 666h1v1h-1zM230 667h1v1h-1zM457 667h2v1h-2zM498 667h3v1h-3zM1122 667h2v1h-2zM1382 667h1v1h-1zM229 668h1v1h-1zM462 668h3v1h-3zM468 668h3v1h-3zM474 668h3v1h-3zM480 668h3v1h-3zM486 668h3v1h-3zM492 668h3v1h-3zM1296 668h1v1h-1zM1380 668h2v1h-2zM228 669h1v1h-1zM606 669h2v1h-2zM1117 669h2v1h-2zM1297 669h2v1h-2zM608 670h1v1h-1zM1116 670h1v1h-1zM1374 670h3v1h-3zM1112 671h1v1h-1zM1302 671h2v1h-2zM223 672h2v1h-2zM1105 672h2v1h-2zM1110 672h2v1h-2zM1304 672h1v1h-1zM1369 672h2v1h-2zM222 673h1v1h-1zM612 673h1v1h-1zM679 673h2v1h-2zM684 673h3v1h-3zM690 673h3v1h-3zM696 673h3v1h-3zM1100 673h1v1h-1zM1104 673h1v1h-1zM1308 673h1v1h-1zM1368 673h1v1h-1zM613 674h2v1h-2zM678 674h1v1h-1zM702 674h3v1h-3zM708 674h3v1h-3zM1098 674h2v1h-2zM1309 674h2v1h-2zM1364 674h1v1h-1zM672 675h3v1h-3zM714 675h3v1h-3zM1314 675h1v1h-1zM1362 675h2v1h-2zM218 676h1v1h-1zM720 676h1v1h-1zM1094 676h1v1h-1zM1315 676h2v1h-2zM1358 676h1v1h-1zM216 677h2v1h-2zM618 677h2v1h-2zM667 677h2v1h-2zM721 677h2v1h-2zM1092 677h2v1h-2zM1320 677h3v1h-3zM1356 677h2v1h-2zM620 678h1v1h-1zM666 678h1v1h-1zM726 678h3v1h-3zM1086 678h3v1h-3zM1326 678h3v1h-3zM1332 678h3v1h-3zM1338 678h3v1h-3zM1344 678h3v1h-3zM1350 678h3v1h-3zM660 679h3v1h-3zM732 679h2v1h-2zM1080 679h3v1h-3zM212 680h1v1h-1zM624 680h3v1h-3zM654 680h3v1h-3zM734 680h1v1h-1zM949 680h2v1h-2zM954 680h3v1h-3zM960 680h3v1h-3zM966 680h1v1h-1zM1070 680h1v1h-1zM1074 680h3v1h-3zM211 681h1v1h-1zM630 681h3v1h-3zM648 681h3v1h-3zM738 681h2v1h-2zM944 681h1v1h-1zM948 681h1v1h-1zM967 681h2v1h-2zM1062 681h3v1h-3zM1068 681h2v1h-2zM210 682h1v1h-1zM636 682h3v1h-3zM642 682h3v1h-3zM740 682h1v1h-1zM942 682h2v1h-2zM972 682h3v1h-3zM1056 682h3v1h-3zM744 683h1v1h-1zM937 683h2v1h-2zM978 683h2v1h-2zM1052 683h1v1h-1zM745 684h2v1h-2zM936 684h1v1h-1zM980 684h1v1h-1zM1050 684h2v1h-2zM206 685h1v1h-1zM205 686h1v1h-1zM750 686h1v1h-1zM931 686h2v1h-2zM984 686h3v1h-3zM1044 686h3v1h-3zM204 687h1v1h-1zM751 687h2v1h-2zM930 687h1v1h-1zM990 687h3v1h-3zM996 688h3v1h-3zM1002 688h1v1h-1zM1039 688h2v1h-2zM756 689h1v1h-1zM926 689h1v1h-1zM1003 689h2v1h-2zM1008 689h3v1h-3zM1014 689h3v1h-3zM1020 689h3v1h-3zM1026 689h3v1h-3zM1038 689h1v1h-1zM200 690h1v1h-1zM757 690h2v1h-2zM924 690h2v1h-2zM1032 690h3v1h-3zM199 691h1v1h-1zM198 692h1v1h-1zM762 693h2v1h-2zM920 693h1v1h-1zM764 694h1v1h-1zM919 694h1v1h-1zM918 695h1v1h-1zM194 696h1v1h-1zM768 696h1v1h-1zM192 697h2v1h-2zM769 697h1v1h-1zM770 698h1v1h-1zM914 698h1v1h-1zM912 699h2v1h-2zM187 701h2v1h-2zM774 701h2v1h-2zM186 702h1v1h-1zM776 702h1v1h-1zM908 703h1v1h-1zM0 704h3v1h-3zM6 704h3v1h-3zM780 704h1v1h-1zM907 704h1v1h-1zM12 705h3v1h-3zM182 705h1v1h-1zM781 705h1v1h-1zM906 705h1v1h-1zM18 706h2v1h-2zM180 706h2v1h-2zM782 706h1v1h-1zM20 707h1v1h-1zM24 708h3v1h-3zM786 708h1v1h-1zM902 708h1v1h-1zM30 709h1v1h-1zM176 709h1v1h-1zM787 709h2v1h-2zM901 709h1v1h-1zM31 710h2v1h-2zM175 710h1v1h-1zM900 710h1v1h-1zM36 711h3v1h-3zM174 711h1v1h-1zM792 711h1v1h-1zM42 712h1v1h-1zM793 712h2v1h-2zM43 713h2v1h-2zM170 713h1v1h-1zM48 714h3v1h-3zM168 714h2v1h-2zM895 714h2v1h-2zM54 715h3v1h-3zM60 715h3v1h-3zM798 715h2v1h-2zM894 715h1v1h-1zM66 716h3v1h-3zM72 716h3v1h-3zM78 716h3v1h-3zM84 716h1v1h-1zM800 716h1v1h-1zM85 717h2v1h-2zM90 717h3v1h-3zM96 717h3v1h-3zM163 717h2v1h-2zM102 718h3v1h-3zM162 718h1v1h-1zM108 719h3v1h-3zM804 719h1v1h-1zM890 719h1v1h-1zM114 720h3v1h-3zM120 720h2v1h-2zM158 720h1v1h-1zM805 720h1v1h-1zM888 720h2v1h-2zM122 721h1v1h-1zM126 721h3v1h-3zM156 721h2v1h-2zM806 721h1v1h-1zM132 722h3v1h-3zM138 722h3v1h-3zM144 722h3v1h-3zM150 722h3v1h-3zM810 723h1v1h-1zM884 723h1v1h-1zM811 724h2v1h-2zM883 724h1v1h-1zM882 725h1v1h-1zM816 726h1v1h-1zM817 727h2v1h-2zM877 727h2v1h-2zM876 728h1v1h-1zM822 729h1v1h-1zM823 730h2v1h-2zM871 730h2v1h-2zM828 731h1v1h-1zM870 731h1v1h-1zM829 732h2v1h-2zM864 732h3v1h-3zM834 733h3v1h-3zM858 733h3v1h-3zM840 734h3v1h-3zM853 734h2v1h-2zM846 735h3v1h-3zM852 735h1v1h-1z" fill="#ff0000"/>
<rect x="1671" y="579" width="1" height="1" fill="#000"/>
<rect x="1671" y="641" width="1" height="1" fill="#000"/>
<rect x="1671" y="746" width="1" height="1" fill="#000"/>
</g>
<line x1="1314" y1="685.5" x2="1386" y2="662.8" stroke="#ff0000" stroke-width="3"/>
<polygon points="1395,660 1383.2,659.6 1385.6,667.2" fill="#ff0000"/>
<text x="-2.5" y="590.0" font-size="9.9" textLength="152.5" lengthAdjust="spacingAndGlyphs">MACD(12,26,9) -0.001710 -0.001988</text>
<text x="1674.0" y="588.0" font-size="9.9" textLength="37.6" lengthAdjust="spacingAndGlyphs">0.005908</text>
<text x="1674.5" y="645.0" font-size="9.9" textLength="17.2" lengthAdjust="spacingAndGlyphs">0.00</text>
<text x="1674.0" y="744.0" font-size="9.9" textLength="40.3" lengthAdjust="spacingAndGlyphs">-0.009851</text>
<g shape-rendering="crispEdges">
<line x1="0" y1="785.5" x2="1670" y2="785.5" stroke="#c0c0c0" stroke-width="1" stroke-dasharray="3 3"/>
<line x1="0" y1="836.5" x2="1670" y2="836.5" stroke="#c0c0c0" stroke-width="1" stroke-dasharray="3 3"/>
<line x1="0" y1="897.5" x2="1670" y2="897.5" stroke="#c0c0c0" stroke-width="1" stroke-dasharray="3 3"/>
<path d="M264 807h1v1h-1zM263 808h1v2h-1zM265 808h1v1h-1zM266 809h1v1h-1zM262 810h1v1h-1zM267 810h1v1h-1zM280 810h1v1h-1zM528 810h1v1h-1zM261 811h1v1h-1zM268 811h1v1h-1zM278 811h2v1h-2zM281 811h2v1h-2zM527 811h2v1h-2zM260 812h1v2h-1zM269 812h1v1h-1zM276 812h2v1h-2zM283 812h2v1h-2zM526 812h1v1h-1zM529 812h1v4h-1zM270 813h1v1h-1zM275 813h1v1h-1zM285 813h2v1h-2zM524 813h2v1h-2zM259 814h1v1h-1zM271 814h1v1h-1zM273 814h2v1h-2zM287 814h2v1h-2zM303 814h2v1h-2zM523 814h1v1h-1zM258 815h1v1h-1zM272 815h1v1h-1zM289 815h2v1h-2zM301 815h2v1h-2zM305 815h1v2h-1zM522 815h1v1h-1zM257 816h1v2h-1zM291 816h2v1h-2zM299 816h2v1h-2zM521 816h1v1h-1zM530 816h1v3h-1zM248 817h4v1h-4zM293 817h2v1h-2zM297 817h2v1h-2zM306 817h1v2h-1zM508 817h13v1h-13zM248 818h1v1h-1zM252 818h5v1h-5zM295 818h2v1h-2zM504 818h4v1h-4zM247 819h1v2h-1zM307 819h1v2h-1zM504 819h1v1h-1zM531 819h1v3h-1zM503 820h1v2h-1zM246 821h1v2h-1zM308 821h1v2h-1zM502 822h1v2h-1zM532 822h1v4h-1zM1144 822h1v1h-1zM245 823h1v2h-1zM309 823h1v2h-1zM1143 823h1v1h-1zM1145 823h1v2h-1zM501 824h1v3h-1zM1116 824h5v1h-5zM1142 824h1v1h-1zM244 825h1v2h-1zM310 825h1v2h-1zM1112 825h4v1h-4zM1121 825h2v1h-2zM1140 825h2v1h-2zM1146 825h1v1h-1zM533 826h1v3h-1zM1112 826h1v1h-1zM1123 826h2v1h-2zM1139 826h1v1h-1zM1147 826h1v1h-1zM243 827h1v2h-1zM311 827h1v2h-1zM500 827h1v2h-1zM1111 827h1v2h-1zM1125 827h2v1h-2zM1138 827h1v1h-1zM1148 827h1v2h-1zM1168 827h1v1h-1zM160 828h1v1h-1zM352 828h1v1h-1zM1127 828h5v1h-5zM1137 828h1v1h-1zM1166 828h2v1h-2zM1169 828h1v1h-1zM160 829h2v1h-2zM242 829h1v2h-1zM312 829h1v1h-1zM351 829h1v2h-1zM353 829h1v2h-1zM499 829h1v3h-1zM534 829h1v3h-1zM1110 829h1v2h-1zM1132 829h5v1h-5zM1149 829h1v1h-1zM1165 829h1v1h-1zM1170 829h1v2h-1zM159 830h1v3h-1zM161 830h1v1h-1zM313 830h2v1h-2zM327 830h3v1h-3zM1150 830h1v1h-1zM1164 830h1v1h-1zM162 831h1v1h-1zM241 831h1v2h-1zM315 831h2v1h-2zM324 831h3v1h-3zM330 831h4v1h-4zM350 831h1v1h-1zM354 831h1v1h-1zM1109 831h1v3h-1zM1151 831h1v2h-1zM1162 831h2v1h-2zM1171 831h1v1h-1zM163 832h1v2h-1zM317 832h2v1h-2zM322 832h2v1h-2zM334 832h3v1h-3zM349 832h1v1h-1zM355 832h1v1h-1zM498 832h1v2h-1zM535 832h1v4h-1zM880 832h1v1h-1zM1161 832h1v1h-1zM1172 832h1v1h-1zM1320 832h2v1h-2zM158 833h1v3h-1zM236 833h5v1h-5zM319 833h3v1h-3zM337 833h1v1h-1zM348 833h1v2h-1zM356 833h1v2h-1zM879 833h1v1h-1zM881 833h1v1h-1zM1152 833h9v1h-9zM1173 833h1v1h-1zM1320 833h1v1h-1zM1322 833h4v1h-4zM164 834h1v1h-1zM180 834h6v1h-6zM207 834h5v1h-5zM232 834h4v1h-4zM338 834h1v1h-1zM488 834h2v1h-2zM497 834h1v2h-1zM878 834h1v1h-1zM882 834h1v1h-1zM1108 834h1v2h-1zM1174 834h1v2h-1zM1319 834h1v2h-1zM1326 834h3v1h-3zM165 835h1v2h-1zM176 835h4v1h-4zM186 835h4v1h-4zM204 835h3v1h-3zM212 835h5v1h-5zM231 835h1v1h-1zM339 835h1v1h-1zM347 835h1v1h-1zM357 835h1v1h-1zM487 835h1v2h-1zM490 835h2v1h-2zM876 835h2v1h-2zM883 835h1v1h-1zM1040 835h1v1h-1zM1329 835h1v1h-1zM157 836h1v3h-1zM174 836h2v1h-2zM190 836h6v1h-6zM202 836h2v1h-2zM217 836h1v1h-1zM230 836h1v1h-1zM340 836h2v1h-2zM346 836h1v1h-1zM358 836h1v1h-1zM416 836h1v1h-1zM492 836h3v1h-3zM496 836h1v1h-1zM536 836h1v2h-1zM875 836h1v1h-1zM884 836h1v2h-1zM1039 836h1v1h-1zM1041 836h2v1h-2zM1107 836h1v3h-1zM1175 836h1v1h-1zM1318 836h1v2h-1zM1330 836h1v1h-1zM1356 836h6v1h-6zM166 837h1v1h-1zM172 837h2v1h-2zM196 837h6v1h-6zM218 837h1v1h-1zM229 837h1v1h-1zM342 837h1v1h-1zM345 837h1v2h-1zM359 837h1v2h-1zM415 837h1v2h-1zM417 837h1v1h-1zM486 837h1v1h-1zM495 837h2v1h-2zM874 837h1v1h-1zM1038 837h1v1h-1zM1043 837h2v1h-2zM1094 837h3v1h-3zM1176 837h4v1h-4zM1331 837h1v1h-1zM1352 837h4v1h-4zM1362 837h2v1h-2zM167 838h1v2h-1zM171 838h1v1h-1zM219 838h1v1h-1zM228 838h1v1h-1zM343 838h1v1h-1zM418 838h1v1h-1zM485 838h1v2h-1zM537 838h1v2h-1zM608 838h4v1h-4zM873 838h1v1h-1zM885 838h1v1h-1zM895 838h3v1h-3zM1037 838h1v1h-1zM1045 838h2v1h-2zM1090 838h4v1h-4zM1097 838h1v1h-1zM1180 838h5v1h-5zM1317 838h1v2h-1zM1332 838h1v2h-1zM1350 838h2v1h-2zM1364 838h3v1h-3zM156 839h1v2h-1zM169 839h2v1h-2zM220 839h2v1h-2zM227 839h1v1h-1zM344 839h1v1h-1zM360 839h1v1h-1zM414 839h1v2h-1zM419 839h1v1h-1zM607 839h1v2h-1zM612 839h8v1h-8zM872 839h1v1h-1zM886 839h1v1h-1zM892 839h3v1h-3zM898 839h2v1h-2zM1000 839h1v1h-1zM1036 839h1v1h-1zM1047 839h2v1h-2zM1080 839h10v1h-10zM1098 839h1v1h-1zM1106 839h1v2h-1zM1185 839h2v1h-2zM1349 839h1v1h-1zM1367 839h2v1h-2zM1384 839h2v1h-2zM168 840h1v1h-1zM222 840h1v1h-1zM226 840h1v1h-1zM361 840h1v1h-1zM420 840h2v1h-2zM484 840h1v1h-1zM538 840h1v2h-1zM620 840h5v1h-5zM871 840h1v1h-1zM887 840h1v1h-1zM890 840h2v1h-2zM900 840h3v1h-3zM999 840h1v1h-1zM1001 840h1v2h-1zM1035 840h1v1h-1zM1049 840h2v1h-2zM1079 840h1v2h-1zM1099 840h1v1h-1zM1187 840h2v1h-2zM1316 840h1v2h-1zM1333 840h1v1h-1zM1348 840h1v1h-1zM1369 840h2v1h-2zM1382 840h2v1h-2zM1386 840h4v1h-4zM155 841h1v3h-1zM223 841h1v1h-1zM225 841h1v1h-1zM362 841h1v2h-1zM413 841h1v2h-1zM422 841h1v1h-1zM483 841h1v2h-1zM606 841h1v2h-1zM625 841h1v1h-1zM870 841h1v1h-1zM888 841h2v1h-2zM903 841h10v1h-10zM998 841h1v2h-1zM1034 841h1v1h-1zM1051 841h2v1h-2zM1100 841h2v1h-2zM1105 841h1v2h-1zM1189 841h2v1h-2zM1248 841h2v1h-2zM1334 841h1v1h-1zM1346 841h2v1h-2zM1371 841h1v1h-1zM1380 841h2v1h-2zM1390 841h3v1h-3zM224 842h1v1h-1zM423 842h1v1h-1zM438 842h3v1h-3zM539 842h1v2h-1zM626 842h1v1h-1zM640 842h2v1h-2zM869 842h1v1h-1zM913 842h2v1h-2zM1002 842h1v1h-1zM1033 842h1v1h-1zM1053 842h2v1h-2zM1078 842h1v2h-1zM1102 842h1v1h-1zM1191 842h2v1h-2zM1248 842h1v1h-1zM1250 842h4v1h-4zM1315 842h1v2h-1zM1335 842h1v1h-1zM1345 842h1v1h-1zM1372 842h2v1h-2zM1379 842h1v1h-1zM1393 842h2v1h-2zM363 843h1v1h-1zM412 843h1v2h-1zM424 843h4v1h-4zM434 843h4v1h-4zM441 843h1v2h-1zM482 843h1v1h-1zM605 843h1v2h-1zM627 843h1v1h-1zM638 843h2v1h-2zM642 843h2v1h-2zM868 843h1v2h-1zM915 843h2v1h-2zM997 843h1v1h-1zM1003 843h1v1h-1zM1032 843h1v2h-1zM1055 843h2v1h-2zM1103 843h2v1h-2zM1193 843h1v1h-1zM1247 843h1v2h-1zM1254 843h4v1h-4zM1336 843h9v1h-9zM1374 843h2v1h-2zM1377 843h2v1h-2zM1395 843h2v1h-2zM154 844h1v3h-1zM364 844h1v1h-1zM428 844h6v1h-6zM481 844h1v2h-1zM540 844h1v2h-1zM628 844h1v1h-1zM637 844h1v1h-1zM644 844h3v1h-3zM660 844h6v1h-6zM917 844h2v1h-2zM996 844h1v1h-1zM1004 844h1v2h-1zM1057 844h1v2h-1zM1077 844h1v1h-1zM1104 844h1v1h-1zM1194 844h2v1h-2zM1258 844h2v1h-2zM1314 844h1v2h-1zM1376 844h1v1h-1zM1397 844h2v1h-2zM365 845h1v1h-1zM411 845h1v2h-1zM442 845h1v1h-1zM604 845h1v1h-1zM629 845h1v1h-1zM636 845h1v1h-1zM647 845h13v1h-13zM666 845h4v1h-4zM867 845h1v1h-1zM919 845h2v1h-2zM995 845h1v1h-1zM1031 845h1v2h-1zM1076 845h1v2h-1zM1196 845h1v1h-1zM1246 845h1v2h-1zM1260 845h3v1h-3zM1399 845h2v1h-2zM366 846h1v2h-1zM443 846h1v1h-1zM456 846h2v1h-2zM476 846h5v1h-5zM541 846h1v2h-1zM603 846h1v2h-1zM630 846h1v1h-1zM634 846h2v1h-2zM670 846h4v1h-4zM866 846h1v1h-1zM921 846h1v2h-1zM952 846h1v1h-1zM994 846h1v2h-1zM1005 846h1v1h-1zM1058 846h1v2h-1zM1197 846h1v1h-1zM1263 846h2v1h-2zM1313 846h1v2h-1zM153 847h1v3h-1zM410 847h1v2h-1zM444 847h1v2h-1zM455 847h1v1h-1zM458 847h2v1h-2zM470 847h6v1h-6zM631 847h1v1h-1zM633 847h1v1h-1zM674 847h4v1h-4zM865 847h1v1h-1zM951 847h1v2h-1zM953 847h1v2h-1zM1006 847h1v1h-1zM1030 847h1v2h-1zM1075 847h1v1h-1zM1198 847h2v1h-2zM1220 847h6v1h-6zM1245 847h1v2h-1zM1265 847h1v2h-1zM128 848h1v1h-1zM367 848h1v1h-1zM454 848h1v1h-1zM460 848h3v1h-3zM466 848h4v1h-4zM542 848h1v2h-1zM602 848h1v2h-1zM632 848h1v1h-1zM678 848h3v1h-3zM864 848h1v1h-1zM922 848h1v1h-1zM993 848h1v1h-1zM1007 848h1v2h-1zM1059 848h1v1h-1zM1074 848h1v2h-1zM1200 848h20v1h-20zM1226 848h2v1h-2zM1312 848h1v3h-1zM128 849h2v1h-2zM368 849h1v1h-1zM409 849h1v2h-1zM445 849h1v1h-1zM452 849h2v1h-2zM463 849h3v1h-3zM551 849h2v1h-2zM681 849h1v2h-1zM862 849h2v1h-2zM923 849h1v2h-1zM950 849h1v2h-1zM954 849h1v2h-1zM991 849h2v1h-2zM1029 849h1v2h-1zM1060 849h1v2h-1zM1228 849h3v1h-3zM1244 849h1v3h-1zM1266 849h1v1h-1zM127 850h1v3h-1zM129 850h1v1h-1zM152 850h1v1h-1zM369 850h1v1h-1zM446 850h1v1h-1zM451 850h1v1h-1zM543 850h1v2h-1zM549 850h2v1h-2zM553 850h2v1h-2zM601 850h1v2h-1zM860 850h2v1h-2zM988 850h3v1h-3zM1008 850h4v1h-4zM1073 850h1v2h-1zM1231 850h2v1h-2zM1267 850h1v1h-1zM130 851h1v2h-1zM151 851h2v1h-2zM370 851h1v1h-1zM406 851h3v1h-3zM447 851h1v2h-1zM450 851h1v1h-1zM547 851h2v1h-2zM555 851h1v1h-1zM682 851h1v2h-1zM859 851h1v1h-1zM924 851h1v1h-1zM949 851h1v2h-1zM955 851h1v2h-1zM986 851h2v1h-2zM1012 851h5v1h-5zM1028 851h1v2h-1zM1061 851h1v1h-1zM1233 851h1v1h-1zM1268 851h1v2h-1zM1311 851h1v2h-1zM56 852h1v1h-1zM149 852h2v1h-2zM371 852h1v1h-1zM402 852h4v1h-4zM449 852h1v1h-1zM544 852h3v1h-3zM556 852h2v1h-2zM600 852h1v1h-1zM857 852h2v1h-2zM925 852h1v2h-1zM984 852h2v1h-2zM1017 852h1v1h-1zM1062 852h1v2h-1zM1071 852h2v1h-2zM1234 852h1v1h-1zM1243 852h1v2h-1zM55 853h1v1h-1zM57 853h1v1h-1zM126 853h1v3h-1zM131 853h1v1h-1zM147 853h2v1h-2zM372 853h2v1h-2zM400 853h2v1h-2zM448 853h1v1h-1zM544 853h1v1h-1zM558 853h2v1h-2zM598 853h2v1h-2zM683 853h1v1h-1zM856 853h1v1h-1zM948 853h1v1h-1zM956 853h1v2h-1zM982 853h2v1h-2zM1018 853h1v1h-1zM1027 853h1v2h-1zM1069 853h2v1h-2zM1235 853h1v1h-1zM1269 853h1v1h-1zM1310 853h1v3h-1zM54 854h1v1h-1zM58 854h1v1h-1zM132 854h1v2h-1zM145 854h2v1h-2zM374 854h1v1h-1zM398 854h2v1h-2zM560 854h1v1h-1zM596 854h2v1h-2zM684 854h1v2h-1zM704 854h1v1h-1zM855 854h1v2h-1zM926 854h1v1h-1zM947 854h1v2h-1zM981 854h1v1h-1zM1019 854h1v1h-1zM1063 854h1v2h-1zM1067 854h2v1h-2zM1236 854h1v2h-1zM1242 854h1v2h-1zM1270 854h1v1h-1zM53 855h1v1h-1zM59 855h1v1h-1zM144 855h1v1h-1zM375 855h1v1h-1zM397 855h1v1h-1zM561 855h1v1h-1zM595 855h1v1h-1zM702 855h2v1h-2zM705 855h1v1h-1zM927 855h1v2h-1zM957 855h1v2h-1zM980 855h1v1h-1zM1020 855h1v1h-1zM1026 855h1v2h-1zM1065 855h2v1h-2zM1271 855h1v2h-1zM52 856h1v1h-1zM60 856h2v1h-2zM125 856h1v3h-1zM133 856h1v1h-1zM142 856h2v1h-2zM376 856h10v1h-10zM396 856h1v1h-1zM562 856h2v1h-2zM593 856h2v1h-2zM685 856h1v1h-1zM700 856h2v1h-2zM706 856h2v1h-2zM854 856h1v2h-1zM946 856h1v2h-1zM978 856h2v1h-2zM1021 856h1v1h-1zM1064 856h1v1h-1zM1237 856h1v1h-1zM1241 856h1v2h-1zM1309 856h1v3h-1zM51 857h1v1h-1zM62 857h1v1h-1zM134 857h1v2h-1zM141 857h1v1h-1zM386 857h2v1h-2zM394 857h2v1h-2zM564 857h1v1h-1zM592 857h1v1h-1zM686 857h1v2h-1zM699 857h1v1h-1zM708 857h1v1h-1zM928 857h1v1h-1zM958 857h1v2h-1zM977 857h1v1h-1zM1022 857h1v1h-1zM1025 857h1v2h-1zM1238 857h1v1h-1zM1272 857h2v1h-2zM1287 857h3v1h-3zM0 858h1v1h-1zM24 858h1v1h-1zM50 858h1v1h-1zM63 858h1v1h-1zM140 858h1v1h-1zM388 858h3v1h-3zM393 858h1v1h-1zM565 858h1v1h-1zM590 858h2v1h-2zM697 858h2v1h-2zM709 858h1v1h-1zM726 858h3v1h-3zM853 858h1v2h-1zM929 858h2v1h-2zM945 858h1v2h-1zM975 858h2v1h-2zM1023 858h1v1h-1zM1239 858h2v1h-2zM1274 858h2v1h-2zM1284 858h3v1h-3zM1290 858h4v1h-4zM1 859h2v1h-2zM23 859h1v2h-1zM25 859h2v1h-2zM39 859h5v1h-5zM49 859h1v1h-1zM64 859h2v1h-2zM124 859h1v2h-1zM135 859h1v2h-1zM138 859h2v1h-2zM391 859h2v1h-2zM566 859h2v1h-2zM588 859h2v1h-2zM687 859h1v2h-1zM694 859h3v1h-3zM710 859h2v1h-2zM722 859h4v1h-4zM729 859h1v1h-1zM931 859h1v1h-1zM959 859h1v2h-1zM973 859h2v1h-2zM1024 859h1v1h-1zM1240 859h1v1h-1zM1276 859h3v1h-3zM1282 859h2v1h-2zM1294 859h3v1h-3zM1308 859h1v2h-1zM3 860h2v1h-2zM27 860h2v1h-2zM36 860h3v1h-3zM44 860h5v1h-5zM66 860h2v1h-2zM137 860h1v1h-1zM568 860h10v1h-10zM587 860h1v1h-1zM690 860h4v1h-4zM712 860h10v1h-10zM730 860h1v1h-1zM852 860h1v1h-1zM932 860h2v1h-2zM942 860h3v1h-3zM971 860h2v1h-2zM1279 860h3v1h-3zM1297 860h1v2h-1zM5 861h2v1h-2zM22 861h1v1h-1zM29 861h2v1h-2zM34 861h2v1h-2zM68 861h3v1h-3zM123 861h1v3h-1zM136 861h1v1h-1zM578 861h4v1h-4zM585 861h2v1h-2zM688 861h2v1h-2zM731 861h1v1h-1zM851 861h1v2h-1zM934 861h2v1h-2zM938 861h4v1h-4zM960 861h4v1h-4zM969 861h2v1h-2zM1307 861h1v3h-1zM7 862h2v1h-2zM21 862h1v1h-1zM31 862h3v1h-3zM71 862h3v1h-3zM582 862h3v1h-3zM732 862h1v2h-1zM936 862h2v1h-2zM964 862h5v1h-5zM1298 862h1v1h-1zM9 863h1v1h-1zM20 863h1v2h-1zM74 863h4v1h-4zM850 863h1v2h-1zM1299 863h1v1h-1zM10 864h1v1h-1zM78 864h4v1h-4zM122 864h1v3h-1zM733 864h1v1h-1zM1300 864h1v2h-1zM1306 864h1v3h-1zM11 865h1v1h-1zM19 865h1v1h-1zM82 865h2v1h-2zM734 865h1v1h-1zM840 865h2v1h-2zM849 865h1v2h-1zM12 866h2v1h-2zM18 866h1v1h-1zM84 866h3v1h-3zM735 866h1v1h-1zM839 866h1v2h-1zM842 866h4v1h-4zM1301 866h1v1h-1zM14 867h1v1h-1zM17 867h1v2h-1zM87 867h3v1h-3zM121 867h1v3h-1zM736 867h2v1h-2zM846 867h3v1h-3zM1302 867h1v1h-1zM1305 867h1v2h-1zM15 868h1v1h-1zM90 868h4v1h-4zM738 868h4v1h-4zM838 868h1v2h-1zM1303 868h1v1h-1zM16 869h1v1h-1zM94 869h3v1h-3zM742 869h3v1h-3zM1303 869h2v1h-2zM97 870h2v1h-2zM111 870h5v1h-5zM120 870h1v1h-1zM745 870h1v1h-1zM791 870h2v1h-2zM823 870h2v1h-2zM837 870h1v1h-1zM1304 870h1v1h-1zM99 871h1v1h-1zM109 871h2v1h-2zM116 871h5v1h-5zM746 871h1v1h-1zM788 871h3v1h-3zM793 871h1v1h-1zM808 871h2v1h-2zM820 871h3v1h-3zM825 871h1v1h-1zM836 871h1v2h-1zM100 872h2v1h-2zM107 872h2v1h-2zM747 872h1v1h-1zM786 872h2v1h-2zM794 872h1v2h-1zM807 872h1v1h-1zM810 872h4v1h-4zM818 872h2v1h-2zM826 872h1v1h-1zM102 873h2v1h-2zM105 873h2v1h-2zM748 873h2v1h-2zM783 873h3v1h-3zM806 873h1v1h-1zM814 873h4v1h-4zM827 873h1v1h-1zM835 873h1v1h-1zM104 874h1v1h-1zM750 874h1v1h-1zM781 874h2v1h-2zM795 874h1v1h-1zM805 874h1v1h-1zM828 874h1v1h-1zM834 874h1v2h-1zM751 875h1v1h-1zM779 875h2v1h-2zM796 875h1v1h-1zM804 875h1v2h-1zM829 875h1v1h-1zM752 876h1v1h-1zM777 876h2v1h-2zM797 876h1v1h-1zM830 876h1v1h-1zM833 876h1v2h-1zM753 877h1v1h-1zM776 877h1v1h-1zM798 877h1v2h-1zM803 877h1v1h-1zM831 877h1v1h-1zM754 878h1v1h-1zM775 878h1v1h-1zM802 878h1v1h-1zM832 878h1v1h-1zM755 879h1v1h-1zM774 879h1v1h-1zM799 879h1v1h-1zM801 879h1v1h-1zM756 880h1v1h-1zM772 880h2v1h-2zM800 880h1v1h-1zM757 881h1v1h-1zM771 881h1v1h-1zM758 882h1v1h-1zM770 882h1v1h-1zM759 883h1v1h-1zM769 883h1v1h-1zM760 884h9v1h-9z" fill="#1e90ff"/>
<rect x="1671" y="751" width="1" height="1" fill="#000"/>
<rect x="1671" y="785" width="1" height="1" fill="#000"/>
<rect x="1671" y="836" width="1" height="1" fill="#000"/>
<rect x="1671" y="897" width="1" height="1" fill="#000"/>
<rect x="1671" y="917" width="1" height="1" fill="#000"/>
</g>
<text x="-1.8" y="762.0" font-size="9.9" textLength="66.0" lengthAdjust="spacingAndGlyphs">RSI(14) 44.1875</text>
<text x="1674.6" y="760.0" font-size="9.9" textLength="14.4" lengthAdjust="spacingAndGlyphs">100</text>
<text x="1674.6" y="789.0" font-size="9.9" textLength="9.6" lengthAdjust="spacingAndGlyphs">80</text>
<text x="1674.6" y="840.0" font-size="9.9" textLength="9.6" lengthAdjust="spacingAndGlyphs">50</text>
<text x="1674.6" y="901.0" font-size="9.9" textLength="9.6" lengthAdjust="spacingAndGlyphs">15</text>
<text x="1674.6" y="920.5" font-size="9.9" textLength="4.8" lengthAdjust="spacingAndGlyphs">0</text>
<g shape-rendering="crispEdges">
<rect x="-8" y="924" width="1" height="3" fill="#000"/>
<rect x="56" y="924" width="1" height="3" fill="#000"/>
<rect x="120" y="924" width="1" height="3" fill="#000"/>
<rect x="184" y="924" width="1" height="3" fill="#000"/>
<rect x="248" y="924" width="1" height="3" fill="#000"/>
<rect x="312" y="924" width="1" height="3" fill="#000"/>
<rect x="376" y="924" width="1" height="3" fill="#000"/>
<rect x="440" y="924" width="1" height="3" fill="#000"/>
<rect x="504" y="924" width="1" height="3" fill="#000"/>
<rect x="568" y="924" width="1" height="3" fill="#000"/>
<rect x="632" y="924" width="1" height="3" fill="#000"/>
<rect x="696" y="924" width="1" height="3" fill="#000"/>
<rect x="760" y="924" width="1" height="3" fill="#000"/>
<rect x="824" y="924" width="1" height="3" fill="#000"/>
<rect x="888" y="924" width="1" height="3" fill="#000"/>
<rect x="952" y="924" width="1" height="3" fill="#000"/>
<rect x="1016" y="924" width="1" height="3" fill="#000"/>
<rect x="1080" y="924" width="1" height="3" fill="#000"/>
<rect x="1144" y="924" width="1" height="3" fill="#000"/>
<rect x="1208" y="924" width="1" height="3" fill="#000"/>
<rect x="1272" y="924" width="1" height="3" fill="#000"/>
<rect x="1336" y="924" width="1" height="3" fill="#000"/>
<rect x="1400" y="924" width="1" height="3" fill="#000"/>
</g>
<text x="-8.7" y="936.0" font-size="9.9" textLength="52.3" lengthAdjust="spacingAndGlyphs">14 Aug 2020</text>
<text x="55.3" y="936.0" font-size="9.9" textLength="52.3" lengthAdjust="spacingAndGlyphs">24 Aug 2020</text>
<text x="119.3" y="936.0" font-size="9.9" textLength="46.5" lengthAdjust="spacingAndGlyphs">2 Sep 2020</text>
<text x="183.3" y="936.0" font-size="9.9" textLength="51.6" lengthAdjust="spacingAndGlyphs">11 Sep 2020</text>
<text x="247.3" y="936.0" font-size="9.9" textLength="51.6" lengthAdjust="spacingAndGlyphs">21 Sep 2020</text>
<text x="311.3" y="936.0" font-size="9.9" textLength="51.6" lengthAdjust="spacingAndGlyphs">30 Sep 2020</text>
<text x="375.3" y="936.0" font-size="9.9" textLength="45.3" lengthAdjust="spacingAndGlyphs">9 Oct 2020</text>
<text x="439.3" y="936.0" font-size="9.9" textLength="50.4" lengthAdjust="spacingAndGlyphs">19 Oct 2020</text>
<text x="503.3" y="936.0" font-size="9.9" textLength="50.4" lengthAdjust="spacingAndGlyphs">28 Oct 2020</text>
<text x="567.3" y="936.0" font-size="9.9" textLength="47.2" lengthAdjust="spacingAndGlyphs">6 Nov 2020</text>
<text x="631.3" y="936.0" font-size="9.9" textLength="52.3" lengthAdjust="spacingAndGlyphs">16 Nov 2020</text>
<text x="695.3" y="936.0" font-size="9.9" textLength="52.3" lengthAdjust="spacingAndGlyphs">25 Nov 2020</text>
<text x="759.3" y="936.0" font-size="9.9" textLength="46.8" lengthAdjust="spacingAndGlyphs">4 Dec 2020</text>
<text x="823.3" y="936.0" font-size="9.9" textLength="51.9" lengthAdjust="spacingAndGlyphs">14 Dec 2020</text>
<text x="887.3" y="936.0" font-size="9.9" textLength="51.9" lengthAdjust="spacingAndGlyphs">23 Dec 2020</text>
<text x="951.3" y="936.0" font-size="9.9" textLength="45.3" lengthAdjust="spacingAndGlyphs">4 Jan 2021</text>
<text x="1015.3" y="936.0" font-size="9.9" textLength="50.3" lengthAdjust="spacingAndGlyphs">13 Jan 2021</text>
<text x="1079.3" y="936.0" font-size="9.9" textLength="50.3" lengthAdjust="spacingAndGlyphs">22 Jan 2021</text>
<text x="1143.3" y="936.0" font-size="9.9" textLength="46.2" lengthAdjust="spacingAndGlyphs">1 Feb 2021</text>
<text x="1207.3" y="936.0" font-size="9.9" textLength="51.3" lengthAdjust="spacingAndGlyphs">10 Feb 2021</text>
<text x="1271.3" y="936.0" font-size="9.9" textLength="51.3" lengthAdjust="spacingAndGlyphs">19 Feb 2021</text>
<text x="1335.3" y="936.0" font-size="9.9" textLength="46.7" lengthAdjust="spacingAndGlyphs">1 Mar 2021</text>
<text x="1399.3" y="936.0" font-size="9.9" textLength="51.8" lengthAdjust="spacingAndGlyphs">10 Mar 2021</text>
<g id="toolbar">
<rect x="0" y="0" width="1717" height="18" fill="#f0f0f0"/>
<rect x="0" y="17" width="1717" height="1" fill="#e6e6e6"/>
<rect x="0" y="18" width="1717" height="1" fill="#c4c4c4"/>
<rect x="0" y="19" width="1717" height="1" fill="#8c8c8c"/>
<rect x="0" y="20" width="1717" height="2" fill="#fff"/>
<rect x="6.5" y="-2" width="12" height="13.2" fill="#fbfaf8" stroke="#b3aca0"/>
<path d="M9.5 1.5V5M12.5 3V9.5M14.5 3V9.5" stroke="#9aa3ad" stroke-width="1.2"/>
<line x1="18.4" y1="11" x2="22.8" y2="14.9" stroke="#bf962e" stroke-width="2.7" stroke-linecap="butt"/>
<circle cx="14.4" cy="7" r="4.7" fill="#d9e8f8" fill-opacity="0.8" stroke="#7ea6dc" stroke-width="1.3"/>
<rect x="31" y="0" width="1" height="16" fill="#a0a0a0" shape-rendering="crispEdges"/>
<path d="M41.5 -2H49l3 3V11H41.5z" fill="#fdfdfd" stroke="#8e8e8e"/>
<path d="M43.5 3H50M43.5 5.5H50M43.5 8H47" stroke="#9a9a9a" stroke-width="1"/>
<path d="M49.4 4.8h3.4v3.8h3.8v3.2h-3.8v3.8h-3.4v-3.8h-3.8V8.6h3.8z" fill="#22cc22" stroke="#0f9a0f" stroke-width="0.8"/>
<text x="59.6" y="9.0" font-size="12.2" font-family='"Liberation Sans", "Noto Sans CJK SC", sans-serif' fill="#000" textLength="36.4" lengthAdjust="spacingAndGlyphs">新订单</text>
<defs><linearGradient id="gBook" x1="0" y1="0" x2="1" y2="1"><stop offset="0" stop-color="#fbe27a"/><stop offset="0.55" stop-color="#e3b02c"/><stop offset="1" stop-color="#b98412"/></linearGradient><linearGradient id="gCloud" x1="0" y1="0" x2="0" y2="1"><stop offset="0" stop-color="#ffffff"/><stop offset="1" stop-color="#c3d2ea"/></linearGradient><linearGradient id="gSect" x1="0" y1="0" x2="1" y2="0"><stop offset="0" stop-color="#2fae2f" stop-opacity="0.95"/><stop offset="1" stop-color="#9fd69f" stop-opacity="0.55"/></linearGradient><linearGradient id="gFun" x1="0" y1="0" x2="0" y2="1"><stop offset="0" stop-color="#ffe773"/><stop offset="1" stop-color="#e6ac1c"/></linearGradient><radialGradient id="gRed" cx="0.4" cy="0.35" r="0.7"><stop offset="0" stop-color="#f0503c"/><stop offset="1" stop-color="#c81408"/></radialGradient></defs>
<path d="M112.8 -1L123.9 7.1L116 13.9L107.9 8z" fill="url(#gBook)"/>
<path d="M116.3 12.3L122.4 7" fill="none" stroke="#f3dc9a" stroke-width="1"/>
<path d="M107.9 8L116 13.9L123.9 7.1" fill="none" stroke="#9a6a12" stroke-width="1.5" stroke-linejoin="round"/>
<path d="M112.8 -1L107.9 8" fill="none" stroke="#c79a2a" stroke-width="0.8"/>
<rect x="138.5" y="-2" width="10.2" height="9" fill="#2a96f0"/>
<rect x="138.5" y="-2" width="2" height="9" fill="#1878d8"/>
<path d="M142 1.8H147.3M142 4H147.3" stroke="#d6ebff" stroke-width="1"/>
<path d="M138 13.5A2.7 2.7 0 0 1 139.2 8.4A3.5 3.5 0 0 1 145.8 7.6A3 3 0 0 1 150.7 9.6A2.1 2.1 0 0 1 150.2 13.5z" fill="url(#gCloud)" stroke="#5a7ab6" stroke-width="1"/>
<circle cx="172.4" cy="5.8" r="7.6" fill="none" stroke="#9ab8ea" stroke-width="1.2"/>
<circle cx="172.4" cy="5.8" r="4.4" fill="none" stroke="#6a97e0" stroke-width="1.3"/>
<path d="M172.4 5.8V13.8A8 8 0 0 0 180.4 5.8z" fill="url(#gSect)"/>
<path d="M172.6 6V13.8" stroke="#16a016" stroke-width="1.6"/>
<circle cx="172.4" cy="5.6" r="1.7" fill="#1f55c4"/>
<path d="M191.6 4.4H206.6L200.3 13.7H197.6z" fill="url(#gFun)" stroke="#cf9b1c" stroke-width="0.6"/>
<ellipse cx="199" cy="2.6" rx="8" ry="2.4" fill="#3f9de2"/>
<ellipse cx="199" cy="0.4" rx="4.8" ry="3" fill="#62b6f2"/>
<circle cx="203.3" cy="9.6" r="4.2" fill="url(#gRed)"/>
<rect x="202.1" y="8.4" width="2.5" height="2.5" fill="#fff"/>
<text x="212.3" y="8.6" font-size="12.2" font-family='"Liberation Sans", "Noto Sans CJK SC", sans-serif' fill="#000" textLength="46.8" lengthAdjust="spacingAndGlyphs">自动交易</text>
<rect x="267" y="0" width="1" height="18" fill="#a0a0a0" shape-rendering="crispEdges"/>
<line x1="271.5" y1="0" x2="271.5" y2="15" stroke="#b0b0b0" stroke-width="3" stroke-dasharray="1 1" shape-rendering="crispEdges"/>
<path d="M285.5 0V13.8M283 11.7H296.4" fill="none" stroke="#5a5a5a" stroke-width="1.2"/>
<path d="M296.8 11.7l-2.2 -1.5v3z" fill="#5a5a5a"/>
<path d="M291.5 1V9.5M289 8.5H291.5M291.5 2H294" fill="none" stroke="#1ea01e" stroke-width="1.6"/>
<rect x="307" y="0" width="23" height="16" fill="#f9f9f9"/>
<rect x="306" y="0" width="1" height="16" fill="#9a9a9a" shape-rendering="crispEdges"/>
<path d="M313.5 0V13.8M311 11.7H324.4" fill="none" stroke="#5a5a5a" stroke-width="1.2"/>
<path d="M324.8 11.7l-2.2 -1.5v3z" fill="#5a5a5a"/>
<path d="M319.5 0V10" stroke="#1ea01e" stroke-width="1.2"/>
<rect x="317.3" y="0.5" width="4.6" height="6.8" fill="#3fdc3f" stroke="#1ea01e" stroke-width="1"/>
<path d="M341.5 0V13.8M339 11.7H352.4" fill="none" stroke="#5a5a5a" stroke-width="1.2"/>
<path d="M352.8 11.7l-2.2 -1.5v3z" fill="#5a5a5a"/>
<path d="M340.5 9.5C343 5 345.5 2.5 347 3.2C349 4 350.5 6 352 7" fill="none" stroke="#1ea01e" stroke-width="1.3"/>
<rect x="362" y="0" width="1" height="16" fill="#a0a0a0" shape-rendering="crispEdges"/>
<line x1="380.1" y1="7.8" x2="385.5" y2="12.6" stroke="#d3ac3a" stroke-width="2.6" stroke-linecap="round"/>
<circle cx="376.5" cy="4.3" r="4.8" fill="#dfecfa" stroke="#5d8edb" stroke-width="1.4"/>
<path d="M373.9 4.3H379.1M376.5 1.7V6.9" stroke="#3a73d2" stroke-width="1.5"/>
<line x1="407.90000000000003" y1="7.8" x2="413.3" y2="12.6" stroke="#d3ac3a" stroke-width="2.6" stroke-linecap="round"/>
<circle cx="404.3" cy="4.3" r="4.8" fill="#dfecfa" stroke="#5d8edb" stroke-width="1.4"/>
<path d="M401.7 4.3H406.90000000000003" stroke="#3a73d2" stroke-width="1.5"/>
<rect x="427" y="-1" width="7.7" height="7.1" fill="#4ea820"/><rect x="435" y="-1" width="7.8" height="7.1" fill="#2a5ed8"/>
<rect x="427" y="6.4" width="7.7" height="7.4" fill="#2a5ed8"/><rect x="435" y="6.4" width="7.8" height="7.4" fill="#4ea820"/>
<rect x="427" y="6.4" width="7.7" height="1.7" fill="#1e48c0"/><rect x="435" y="6.4" width="7.8" height="1.7" fill="#3e9010"/>
<path d="M428.3 1.3h5.5v3.5h-1v-1h-3.5v1h-1zM436.3 1.3h5.5v3.5h-1v-1h-3.5v1h-1zM428.3 9.2h5.5v3.6h-1v-1h-3.5v1h-1zM436.3 9.2h5.5v3.6h-1v-1h-3.5v1h-1z" fill="#fff"/>
<path d="M429.6 2.7h3M437.6 2.7h3M429.6 10.6h3M437.6 10.6h3" stroke="#9fc0ee" stroke-width="0.8"/>
<rect x="428.2" y="7" width="0.9" height="0.8" fill="#fff"/><rect x="436.2" y="7" width="0.9" height="0.8" fill="#fff"/>
<rect x="452" y="0" width="1" height="16" fill="#a0a0a0" shape-rendering="crispEdges"/>
<rect x="458" y="0" width="24" height="16" fill="#f9f9f9"/>
<rect x="457" y="0" width="1" height="16" fill="#9a9a9a" shape-rendering="crispEdges"/>
<path d="M465.5 0V13.8M463 11.7H476.4" fill="none" stroke="#5a5a5a" stroke-width="1.2"/>
<path d="M476.8 11.7l-2.2 -1.5v3z" fill="#5a5a5a"/>
<path d="M470.1 2V9L474.5 5.5z" fill="#a6eaa6" stroke="#14a014" stroke-width="1" stroke-linejoin="miter"/>
<rect x="486" y="0" width="24" height="16" fill="#f9f9f9"/>
<rect x="485" y="0" width="1" height="16" fill="#9a9a9a" shape-rendering="crispEdges"/>
<path d="M493.5 0V13.8M491 11.7H504.4" fill="none" stroke="#5a5a5a" stroke-width="1.2"/>
<path d="M504.8 11.7l-2.2 -1.5v3z" fill="#5a5a5a"/>
<path d="M499.5 0V9.8" stroke="#1870a8" stroke-width="1.3"/>
<path d="M505.2 5.4H501.5" fill="none" stroke="#d84000" stroke-width="1.2"/>
<path d="M500.3 5.4L503.4 2.9L502.6 5.4L503.4 7.9z" fill="#d84000"/>
<rect x="514" y="0" width="1" height="16" fill="#a0a0a0" shape-rendering="crispEdges"/>
<path d="M524.5 -2H531l3 3V10H524.5z" fill="#fdfdfd" stroke="#8e8e8e"/>
<path d="M526.5 3H529" stroke="#9a9a9a"/>
<path d="M532.3 4.6h3.4v3.8h3.8v3.2h-3.8v3.8h-3.4v-3.8h-3.8V8.4h3.8z" fill="#22cc22" stroke="#0f9a0f" stroke-width="0.8"/>
<polygon points="545.8,5 551.4,5 548.5999999999999,8" fill="#000"/>
<defs><linearGradient id="gClk" x1="0" y1="0" x2="0" y2="1"><stop offset="0" stop-color="#3a98f0"/><stop offset="1" stop-color="#0c50c0"/></linearGradient></defs>
<circle cx="569.8" cy="6.2" r="6.7" fill="#f4f8fe" stroke="url(#gClk)" stroke-width="2.2"/>
<path d="M569.8 2.2V6.4H573" fill="none" stroke="#333" stroke-width="1.2"/>
<path d="M566.2 6.2h0.8M569.8 9.6v0.8M567.2 3.6l0.5 0.5M572.4 3.6l-0.5 0.5M567.2 8.8l0.5 -0.5M572.4 8.8l-0.5 -0.5" stroke="#888" stroke-width="0.7"/>
<polygon points="584.7,5 590.3000000000001,5 587.5,8" fill="#000"/>
<rect x="601.9" y="-1" width="14.5" height="13.6" fill="#fdfeff" stroke="#2e6fd6" stroke-width="1"/>
<rect x="601.4" y="-1" width="15.5" height="2.7" fill="#3a7ada"/>
<path d="M602.5 7H616" stroke="#b8cce8" stroke-width="0.8"/>
<path d="M603.5 5.2H606L608 3.6L610.8 4.5L614.3 3.1" fill="none" stroke="#a42408" stroke-width="1.3"/>
<path d="M604.5 10.5L607.3 9.8L609.4 10.5L611.9 8.4L614.7 10.8" fill="none" stroke="#128a28" stroke-width="1.3"/>
<polygon points="623.8,5 629.4,5 626.5999999999999,8" fill="#000"/>
<rect x="635" y="0" width="1" height="18" fill="#a0a0a0" shape-rendering="crispEdges"/>
<line x1="640.0" y1="0" x2="640.0" y2="15" stroke="#b0b0b0" stroke-width="3" stroke-dasharray="1 1" shape-rendering="crispEdges"/>
<rect x="646.3" y="0" width="23.700000000000045" height="16" fill="#f9f9f9"/>
<rect x="645.3" y="0" width="1" height="16" fill="#9a9a9a" shape-rendering="crispEdges"/>
<path d="M652.8 -3V10.8L655.9 8L658.1 13.2L660.2 12.3L658 7.2H662z" fill="#2b2b2b"/>
<path d="M677.5 6.5H684M687 6.5H693.5M685.5 0V5M685.5 8V13.5" stroke="#5a5a5a" stroke-width="1" shape-rendering="crispEdges"/>
<rect x="685" y="6" width="1" height="1" fill="#5a5a5a"/>
<rect x="702" y="0" width="1" height="16" fill="#a0a0a0" shape-rendering="crispEdges"/>
<path d="M719.5 0V12.5M742 6.5H754" stroke="#5a5a5a" stroke-width="1" shape-rendering="crispEdges"/>
<path d="M770.3 12.6L782.3 1.2" stroke="#5a5a5a" stroke-width="1.1"/>
<path d="M796.2 7.9L808.2 0M797.7 12.6L809.3 4.2" fill="none" stroke="#4a4a4a" stroke-width="1.15"/>
<path d="M799.6 10.9L801.6 5.8M802.3 9.2L804.3 4.1M805 7.6L807 2.5" fill="none" stroke="#5a5a5a" stroke-width="0.8"/>
<text x="806.4" y="14.9" font-size="6.6" font-weight="bold" fill="#333">E</text>
<path d="M825 2.5H838M825 6.5H838M825 10.5H834" stroke="#5a5a5a" stroke-width="1" stroke-dasharray="1 1" shape-rendering="crispEdges"/>
<text x="835" y="14.9" font-size="6.6" font-weight="bold" fill="#333">F</text>
<text x="855.3" y="11" font-size="12.6" fill="#4e4e4e" stroke="#4e4e4e" stroke-width="0.45" textLength="8.6" lengthAdjust="spacingAndGlyphs">A</text>
<rect x="882.5" y="-0.5" width="11" height="13" fill="none" stroke="#5a5a5a" stroke-width="1" stroke-dasharray="1 1" shape-rendering="crispEdges"/>
<text x="884.2" y="10.5" font-size="10.6" fill="#4e4e4e" stroke="#4e4e4e" stroke-width="0.5" textLength="7.8" lengthAdjust="spacingAndGlyphs">T</text>
<path d="M912 0.2l3.1 2.3l-3.1 2.3l-3.1-2.3zM919.6 7.9l3.4 2.6l-3.4 2.6l-3.4-2.6z" fill="#3a3a3a"/>
<path d="M910.8 7.6L914 10L918.4 4.6" fill="none" stroke="#3a3a3a" stroke-width="1.4"/>
<polygon points="929.6,5 935.2,5 932.4,8" fill="#000"/>
<rect x="941" y="0" width="1" height="18" fill="#a0a0a0" shape-rendering="crispEdges"/>
<line x1="946.0" y1="0" x2="946.0" y2="15" stroke="#b0b0b0" stroke-width="3" stroke-dasharray="1 1" shape-rendering="crispEdges"/>
<rect x="1120.3" y="0" width="24.299999999999955" height="16" fill="#f9f9f9"/>
<rect x="1119.3" y="0" width="1" height="16" fill="#9a9a9a" shape-rendering="crispEdges"/>
<text x="956.5" y="9.8" font-size="9.7" fill="#4a4a4a" textLength="12.5" lengthAdjust="spacingAndGlyphs">M1</text>
<text x="984.7" y="9.8" font-size="9.7" fill="#4a4a4a" textLength="12.5" lengthAdjust="spacingAndGlyphs">M5</text>
<text x="1011" y="9.8" font-size="9.7" fill="#4a4a4a" textLength="16.9" lengthAdjust="spacingAndGlyphs">M15</text>
<text x="1038.5" y="9.8" font-size="9.7" fill="#4a4a4a" textLength="17.8" lengthAdjust="spacingAndGlyphs">M30</text>
<text x="1069.5" y="9.8" font-size="9.7" fill="#4a4a4a" textLength="11.9" lengthAdjust="spacingAndGlyphs">H1</text>
<text x="1096.6" y="9.8" font-size="9.7" fill="#4a4a4a" textLength="12.6" lengthAdjust="spacingAndGlyphs">H4</text>
<text x="1125.8" y="9.8" font-size="9.7" fill="#4a4a4a" textLength="11.5" lengthAdjust="spacingAndGlyphs">D1</text>
<text x="1153" y="9.8" font-size="9.7" fill="#4a4a4a" textLength="14.1" lengthAdjust="spacingAndGlyphs">W1</text>
<text x="1179.7" y="9.8" font-size="9.7" fill="#4a4a4a" textLength="14.6" lengthAdjust="spacingAndGlyphs">MN</text>
<rect x="1202" y="0" width="1" height="18" fill="#a0a0a0" shape-rendering="crispEdges"/>
<line x1="1670" y1="6" x2="1665.2" y2="10.6" stroke="#1f55cf" stroke-width="2.4" stroke-linecap="round"/>
<circle cx="1672.7" cy="3" r="3.7" fill="#f6f9ff" stroke="#2a62d8" stroke-width="1.4"/>
<path d="M1689.3 8.2C1689.3 5 1692 3.6 1695 3.6C1699 3.6 1700.5 6 1700.3 8.4C1700 11 1697.5 12.2 1694.2 12.2L1692.3 14.5L1692.3 12C1690.5 11.4 1689.3 10.2 1689.3 8.2z" fill="#e3e5ee" stroke="#b9bcc8" stroke-width="0.9"/>
<circle cx="1703.5" cy="3.6" r="8.2" fill="#de3420"/>
<text x="1699.8" y="8" font-size="13.5" font-weight="bold" fill="#fff" font-family='"Liberation Serif", serif' textLength="6.6" lengthAdjust="spacingAndGlyphs">1</text>
</g>
</svg>
</body></html>
